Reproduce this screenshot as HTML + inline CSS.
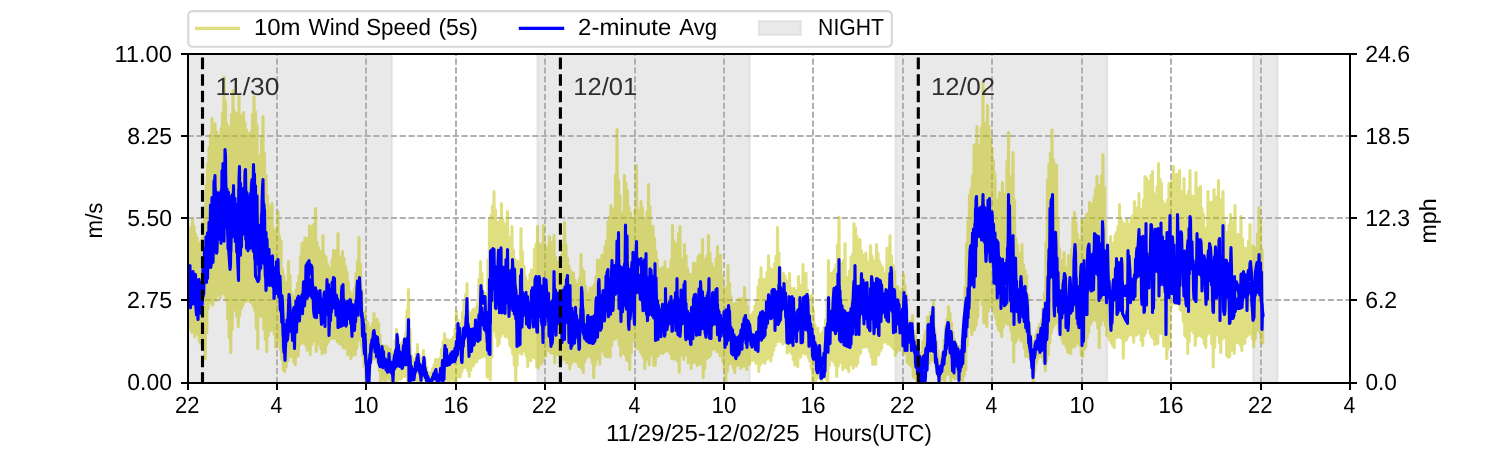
<!DOCTYPE html>
<html><head><meta charset="utf-8"><title>Wind Speed</title>
<style>html,body{margin:0;padding:0;background:#fff;}svg{display:block;}text{font-family:'Liberation Sans', sans-serif;text-rendering:geometricPrecision;}</style></head><body>
<svg width="1500" height="450" viewBox="0 0 1500 450" style="will-change:transform;transform:translateZ(0)">
<rect x="0" y="0" width="1500" height="450" fill="#fff"/>
<defs><clipPath id="ax"><rect x="188.0" y="54.0" width="1162.0" height="329.0"/></clipPath></defs>
<g clip-path="url(#ax)">
<rect x="170.0" y="52.0" width="221.8" height="333.0" fill="#d3d3d3" fill-opacity="0.5" stroke="#d3d3d3" stroke-opacity="0.5" stroke-width="2.08"/>
<rect x="537.5" y="52.0" width="212.20000000000005" height="333.0" fill="#d3d3d3" fill-opacity="0.5" stroke="#d3d3d3" stroke-opacity="0.5" stroke-width="2.08"/>
<rect x="895.5" y="52.0" width="211.70000000000005" height="333.0" fill="#d3d3d3" fill-opacity="0.5" stroke="#d3d3d3" stroke-opacity="0.5" stroke-width="2.08"/>
<rect x="1253.2" y="52.0" width="24.299999999999955" height="333.0" fill="#d3d3d3" fill-opacity="0.5" stroke="#d3d3d3" stroke-opacity="0.5" stroke-width="2.08"/>
<path d="M277.00,383.0 L277.00,54.0" stroke="#b0b0b0" stroke-width="2" stroke-dasharray="6.17 2.67" fill="none"/>
<path d="M366.00,383.0 L366.00,54.0" stroke="#b0b0b0" stroke-width="2" stroke-dasharray="6.17 2.67" fill="none"/>
<path d="M456.00,383.0 L456.00,54.0" stroke="#b0b0b0" stroke-width="2" stroke-dasharray="6.17 2.67" fill="none"/>
<path d="M545.00,383.0 L545.00,54.0" stroke="#b0b0b0" stroke-width="2" stroke-dasharray="6.17 2.67" fill="none"/>
<path d="M635.00,383.0 L635.00,54.0" stroke="#b0b0b0" stroke-width="2" stroke-dasharray="6.17 2.67" fill="none"/>
<path d="M724.00,383.0 L724.00,54.0" stroke="#b0b0b0" stroke-width="2" stroke-dasharray="6.17 2.67" fill="none"/>
<path d="M813.00,383.0 L813.00,54.0" stroke="#b0b0b0" stroke-width="2" stroke-dasharray="6.17 2.67" fill="none"/>
<path d="M903.00,383.0 L903.00,54.0" stroke="#b0b0b0" stroke-width="2" stroke-dasharray="6.17 2.67" fill="none"/>
<path d="M992.00,383.0 L992.00,54.0" stroke="#b0b0b0" stroke-width="2" stroke-dasharray="6.17 2.67" fill="none"/>
<path d="M1082.00,383.0 L1082.00,54.0" stroke="#b0b0b0" stroke-width="2" stroke-dasharray="6.17 2.67" fill="none"/>
<path d="M1171.00,383.0 L1171.00,54.0" stroke="#b0b0b0" stroke-width="2" stroke-dasharray="6.17 2.67" fill="none"/>
<path d="M1261.00,383.0 L1261.00,54.0" stroke="#b0b0b0" stroke-width="2" stroke-dasharray="6.17 2.67" fill="none"/>
<path d="M187.5,136.00 L1350.0,136.00" stroke="#b0b0b0" stroke-width="2" stroke-dasharray="6.17 2.67" fill="none"/>
<path d="M187.5,218.00 L1350.0,218.00" stroke="#b0b0b0" stroke-width="2" stroke-dasharray="6.17 2.67" fill="none"/>
<path d="M187.5,300.00 L1350.0,300.00" stroke="#b0b0b0" stroke-width="2" stroke-dasharray="6.17 2.67" fill="none"/>
<polyline points="188.00,231.9 188.75,326.7 189.50,229.5 190.25,328.7 191.00,226.6 191.75,332.3 192.50,219.5 193.25,331.3 194.00,226.2 194.75,336.7 195.50,234.2 196.25,333.3 197.00,237.8 197.75,334.3 198.50,245.9 199.25,341.3 200.00,242.9 200.75,343.5 201.50,239.8 202.25,344.7 203.00,222.0 203.75,350.0 204.50,207.7 205.25,358.5 206.00,185.9 206.75,332.8 207.50,164.3 208.25,308.7 209.00,147.9 209.75,302.7 210.50,135.1 211.25,296.8 212.00,118.5 212.75,305.2 213.50,124.7 214.25,295.4 215.00,123.7 215.75,300.5 216.50,131.8 217.25,295.3 218.00,135.9 218.75,295.5 219.50,135.5 220.25,297.9 221.00,128.5 221.75,293.0 222.50,112.7 223.25,293.5 224.00,77.1 224.75,294.8 225.50,101.7 226.25,300.7 227.00,123.9 227.75,318.9 228.50,127.2 229.25,337.9 230.00,133.9 230.75,352.5 231.50,114.3 232.25,329.5 233.00,90.5 233.75,307.3 234.50,111.1 235.25,310.0 236.00,125.6 236.75,316.5 237.50,113.2 238.25,326.5 239.00,96.5 239.75,315.5 240.50,115.2 241.25,308.7 242.00,126.1 242.75,305.4 243.50,112.5 244.25,302.2 245.00,123.0 245.75,299.7 246.50,129.9 247.25,300.8 248.00,133.5 248.75,298.8 249.50,136.1 250.25,301.7 251.00,131.6 251.75,302.7 252.50,114.3 253.25,305.9 254.00,96.5 254.75,310.3 255.50,111.7 256.25,328.2 257.00,124.9 257.75,348.5 258.50,155.7 259.25,314.7 260.00,155.8 260.75,315.8 261.50,137.1 262.25,316.7 263.00,116.5 263.75,328.9 264.50,153.2 265.25,339.0 266.00,175.5 266.75,351.5 267.50,195.8 268.25,335.7 269.00,205.7 269.75,330.7 270.50,211.8 271.25,329.3 272.00,203.5 272.75,330.1 273.50,228.8 274.25,334.3 275.00,230.2 275.75,347.0 276.50,231.6 277.25,336.8 278.00,211.5 278.75,341.3 279.50,236.2 280.25,349.1 281.00,241.4 281.75,358.7 282.50,269.5 283.25,370.0 284.00,275.9 284.75,371.5 285.50,289.1 286.25,366.6 287.00,282.2 287.75,361.0 288.50,261.5 289.25,356.6 290.00,275.5 290.75,353.7 291.50,292.9 292.25,356.9 293.00,296.0 293.75,361.8 294.50,298.1 295.25,364.5 296.00,290.1 296.75,356.4 297.50,283.2 298.25,355.8 299.00,276.0 299.75,345.0 300.50,256.6 301.25,343.2 302.00,243.9 302.75,343.0 303.50,242.3 304.25,343.2 305.00,237.9 305.75,345.1 306.50,240.4 307.25,350.2 308.00,238.5 308.75,349.9 309.50,225.8 310.25,354.5 311.00,234.1 311.75,344.7 312.50,226.3 313.25,341.2 314.00,224.4 314.75,338.0 315.50,208.5 316.25,351.4 317.00,242.3 317.75,341.5 318.50,247.5 319.25,344.3 320.00,253.9 320.75,348.5 321.50,251.1 322.25,353.5 323.00,235.5 323.75,348.7 324.50,255.2 325.25,352.5 326.00,257.4 326.75,344.8 327.50,264.3 328.25,341.9 329.00,270.2 329.75,339.2 330.50,268.0 331.25,336.7 332.00,260.2 332.75,338.3 333.50,250.6 334.25,338.3 335.00,253.7 335.75,336.2 336.50,250.3 337.25,341.6 338.00,233.5 338.75,343.0 339.50,257.4 340.25,343.9 341.00,259.7 341.75,344.5 342.50,251.5 343.25,347.7 344.00,258.3 344.75,348.2 345.50,266.3 346.25,345.3 347.00,272.3 347.75,354.4 348.50,282.0 349.25,351.7 350.00,292.1 350.75,358.5 351.50,295.4 352.25,355.6 353.00,293.3 353.75,350.6 354.50,288.3 355.25,354.7 356.00,273.2 356.75,348.3 357.50,261.5 358.25,340.0 359.00,237.5 359.75,338.7 360.50,263.7 361.25,345.7 362.00,290.2 362.75,355.6 363.50,313.6 364.25,366.8 365.00,311.8 365.75,382.7 366.50,320.6 367.25,382.3 368.00,323.0 368.75,381.5 369.50,331.7 370.25,367.6 371.00,328.0 371.75,357.7 372.50,323.6 373.25,358.9 374.00,313.5 374.75,358.4 375.50,321.1 376.25,359.2 377.00,319.0 377.75,362.6 378.50,323.1 379.25,370.6 380.00,335.0 380.75,381.5 381.50,345.4 382.25,379.3 383.00,345.6 383.75,379.6 384.50,350.9 385.25,381.5 386.00,346.1 386.75,379.1 387.50,347.5 388.25,379.0 389.00,348.8 389.75,378.4 390.50,349.6 391.25,381.5 392.00,353.1 392.75,380.0 393.50,354.7 394.25,382.7 395.00,340.6 395.75,381.0 396.50,329.5 397.25,381.5 398.00,337.1 398.75,378.3 399.50,343.2 400.25,379.5 401.00,345.7 401.75,378.0 402.50,342.3 403.25,375.9 404.00,339.9 404.75,376.1 405.50,333.5 406.25,374.9 407.00,310.2 407.75,381.0 408.50,289.5 409.25,381.5 410.00,329.2 410.75,377.7 411.50,355.7 412.25,379.2 413.00,359.3 413.75,379.8 414.50,361.9 415.25,382.7 416.00,354.0 416.75,379.2 417.50,344.5 418.25,382.7 419.00,355.0 419.75,382.7 420.50,358.2 421.25,380.1 422.00,357.6 422.75,379.4 423.50,350.5 424.25,379.9 425.00,359.7 425.75,379.7 426.50,367.1 427.25,380.9 428.00,372.5 428.75,380.9 429.50,377.9 430.25,381.5 431.00,373.1 431.75,381.3 432.50,368.7 433.25,380.4 434.00,364.9 434.75,380.5 435.50,359.5 436.25,380.1 437.00,360.1 437.75,380.9 438.50,359.6 439.25,379.2 440.00,358.4 440.75,379.2 441.50,349.4 442.25,378.5 443.00,341.5 443.75,379.3 444.50,333.5 445.25,377.7 446.00,339.0 446.75,381.5 447.50,339.7 448.25,379.6 449.00,340.5 449.75,381.5 450.50,341.8 451.25,380.0 452.00,339.2 452.75,379.4 453.50,337.0 454.25,382.7 455.00,329.4 455.75,381.5 456.50,311.5 457.25,376.9 458.00,319.9 458.75,376.4 459.50,329.4 460.25,376.9 461.00,323.9 461.75,371.8 462.50,312.6 463.25,367.9 464.00,302.0 464.75,366.2 465.50,294.8 466.25,367.6 467.00,283.5 467.75,370.6 468.50,311.2 469.25,376.5 470.00,313.8 470.75,370.3 471.50,312.5 472.25,366.2 473.00,309.4 473.75,365.0 474.50,310.4 475.25,362.0 476.00,307.9 476.75,361.5 477.50,302.9 478.25,358.1 479.00,279.6 479.75,357.9 480.50,261.5 481.25,353.6 482.00,273.6 482.75,356.9 483.50,291.5 484.25,353.8 485.00,293.7 485.75,355.9 486.50,293.3 487.25,376.9 488.00,259.9 488.75,374.8 489.50,219.4 490.25,379.5 491.00,215.5 491.75,357.0 492.50,205.9 493.25,330.9 494.00,191.5 494.75,329.6 495.50,210.0 496.25,337.0 497.00,225.4 497.75,345.9 498.50,222.0 499.25,343.5 500.00,220.5 500.75,336.1 501.50,203.5 502.25,333.0 503.00,219.8 503.75,333.5 504.50,227.7 505.25,336.6 506.00,223.7 506.75,334.5 507.50,211.5 508.25,337.8 509.00,239.1 509.75,345.2 510.50,237.5 511.25,347.2 512.00,226.5 512.75,353.9 513.50,250.1 514.25,364.9 515.00,259.6 515.75,382.7 516.50,261.0 517.25,365.3 518.00,263.3 518.75,352.9 519.50,261.4 520.25,348.2 521.00,228.5 521.75,354.3 522.50,251.9 523.25,347.9 524.00,266.3 524.75,351.3 525.50,276.5 526.25,355.6 527.00,283.9 527.75,366.5 528.50,281.6 529.25,359.7 530.00,274.3 530.75,360.8 531.50,269.7 532.25,357.1 533.00,271.7 533.75,357.2 534.50,249.0 535.25,358.1 536.00,244.4 536.75,366.5 537.50,226.5 538.25,368.0 539.00,244.3 539.75,358.3 540.50,250.1 541.25,363.9 542.00,243.9 542.75,361.5 543.50,225.5 544.25,356.8 545.00,243.5 545.75,355.7 546.50,250.3 547.25,348.6 548.00,247.8 548.75,350.7 549.50,236.5 550.25,351.9 551.00,242.4 551.75,353.3 552.50,254.3 553.25,351.4 554.00,235.5 554.75,362.8 555.50,257.1 556.25,354.1 557.00,261.8 557.75,354.4 558.50,265.0 559.25,355.0 560.00,257.8 560.75,362.5 561.50,255.3 562.25,358.4 563.00,245.0 563.75,359.5 564.50,222.5 565.25,356.9 566.00,244.9 566.75,362.7 567.50,258.3 568.25,362.3 569.00,266.0 569.75,368.9 570.50,270.2 571.25,363.9 572.00,272.7 572.75,360.9 573.50,273.1 574.25,361.1 575.00,280.4 575.75,361.7 576.50,285.5 577.25,361.9 578.00,284.0 578.75,366.2 579.50,278.3 580.25,366.3 581.00,254.5 581.75,368.1 582.50,269.5 583.25,372.5 584.00,271.3 584.75,361.8 585.50,286.3 586.25,358.3 587.00,295.9 587.75,355.2 588.50,292.8 589.25,355.5 590.00,288.0 590.75,357.4 591.50,288.7 592.25,362.7 593.00,286.8 593.75,377.5 594.50,284.2 595.25,365.0 596.00,276.9 596.75,359.1 597.50,260.2 598.25,353.7 599.00,264.1 599.75,363.9 600.50,259.3 601.25,351.0 602.00,255.3 602.75,349.5 603.50,254.5 604.25,354.4 605.00,246.4 605.75,356.5 606.50,241.3 607.25,356.8 608.00,221.7 608.75,345.3 609.50,216.7 610.25,357.0 611.00,205.5 611.75,345.3 612.50,210.3 613.25,339.3 614.00,208.9 614.75,339.2 615.50,174.8 616.25,335.5 617.00,129.5 617.75,338.0 618.50,180.2 619.25,345.2 620.00,195.6 620.75,355.7 621.50,221.9 622.25,352.5 623.00,213.4 623.75,353.3 624.50,175.5 625.25,354.9 626.00,183.3 626.75,359.9 627.50,190.8 628.25,360.7 629.00,207.5 629.75,369.5 630.50,213.1 631.25,352.7 632.00,220.0 632.75,341.0 633.50,219.3 634.25,340.1 635.00,210.3 635.75,340.3 636.50,165.5 637.25,348.7 638.00,222.3 638.75,347.1 639.50,210.2 640.25,351.6 641.00,201.5 641.75,353.8 642.50,208.0 643.25,356.9 644.00,218.5 644.75,368.5 645.50,219.2 646.25,359.7 647.00,212.3 647.75,354.4 648.50,184.5 649.25,364.6 650.00,206.5 650.75,351.1 651.50,228.3 652.25,354.9 653.00,226.3 653.75,365.3 654.50,238.2 655.25,365.5 656.00,251.1 656.75,356.5 657.50,259.8 658.25,355.7 659.00,269.1 659.75,352.9 660.50,274.0 661.25,351.2 662.00,267.8 662.75,353.4 663.50,267.2 664.25,351.7 665.00,261.5 665.75,350.7 666.50,272.4 667.25,350.9 668.00,270.1 668.75,349.0 669.50,268.9 670.25,353.4 671.00,260.3 671.75,358.7 672.50,225.5 673.25,357.0 674.00,241.0 674.75,359.2 675.50,244.2 676.25,354.9 677.00,243.2 677.75,361.3 678.50,233.9 679.25,372.1 680.00,226.5 680.75,355.1 681.50,260.2 682.25,353.8 683.00,258.6 683.75,359.4 684.50,244.5 685.25,355.1 686.00,255.6 686.75,353.9 687.50,268.2 688.25,362.7 689.00,274.1 689.75,358.9 690.50,275.9 691.25,368.5 692.00,274.1 692.75,362.8 693.50,263.2 694.25,362.3 695.00,263.3 695.75,361.3 696.50,263.7 697.25,365.4 698.00,256.8 698.75,364.3 699.50,254.9 700.25,362.6 701.00,255.0 701.75,363.9 702.50,239.5 703.25,377.5 704.00,259.1 704.75,368.6 705.50,265.1 706.25,358.9 707.00,255.8 707.75,357.7 708.50,235.5 709.25,356.8 710.00,252.7 710.75,355.0 711.50,263.4 712.25,349.7 713.00,269.5 713.75,348.9 714.50,267.4 715.25,348.1 716.00,258.8 716.75,351.6 717.50,246.5 718.25,351.3 719.00,260.1 719.75,355.5 720.50,255.4 721.25,354.9 722.00,275.2 722.75,361.2 723.50,287.3 724.25,368.4 725.00,287.9 725.75,382.7 726.50,295.4 727.25,371.4 728.00,265.5 728.75,364.4 729.50,283.0 730.25,362.5 731.00,296.5 731.75,363.6 732.50,303.6 733.25,367.9 734.00,308.3 734.75,372.5 735.50,303.2 736.25,365.4 737.00,308.9 737.75,364.9 738.50,299.0 739.25,363.5 740.00,299.2 740.75,368.3 741.50,303.9 742.25,363.8 743.00,298.1 743.75,366.2 744.50,287.5 745.25,363.7 746.00,299.3 746.75,369.5 747.50,306.4 748.25,363.3 749.00,315.9 749.75,364.3 750.50,317.0 751.25,359.8 752.00,314.3 752.75,360.2 753.50,311.9 754.25,359.3 755.00,305.7 755.75,363.3 756.50,300.0 757.25,362.1 758.00,286.9 758.75,371.5 759.50,279.5 760.25,364.7 761.00,267.5 761.75,362.3 762.50,282.4 763.25,361.1 764.00,279.0 764.75,363.2 765.50,281.0 766.25,359.4 767.00,272.4 767.75,358.3 768.50,255.5 769.25,357.8 770.00,268.3 770.75,360.9 771.50,269.2 772.25,355.2 773.00,269.5 773.75,350.0 774.50,263.5 775.25,345.6 776.00,256.4 776.75,341.4 777.50,227.5 778.25,341.6 779.00,253.0 779.75,338.3 780.50,268.3 781.25,341.6 782.00,273.4 782.75,343.9 783.50,273.2 784.25,342.6 785.00,276.3 785.75,343.3 786.50,284.7 787.25,352.9 788.00,280.9 788.75,350.3 789.50,273.5 790.25,351.3 791.00,288.2 791.75,353.8 792.50,291.3 793.25,359.5 794.00,288.3 794.75,364.9 795.50,291.2 796.25,360.8 797.00,290.2 797.75,366.5 798.50,276.5 799.25,357.4 800.00,287.5 800.75,357.1 801.50,284.9 802.25,353.3 803.00,264.5 803.75,352.7 804.50,274.6 805.25,354.1 806.00,273.4 806.75,353.0 807.50,290.0 808.25,357.5 809.00,295.9 809.75,361.2 810.50,301.1 811.25,368.8 812.00,295.4 812.75,381.5 813.50,310.4 814.25,375.4 815.00,324.9 815.75,380.5 816.50,329.0 817.25,378.2 818.00,328.4 818.75,376.5 819.50,334.5 820.25,376.9 821.00,334.6 821.75,381.4 822.50,332.4 823.25,377.0 824.00,327.6 824.75,375.9 825.50,319.8 826.25,378.9 827.00,299.0 827.75,381.5 828.50,260.5 829.25,365.8 830.00,274.0 830.75,355.7 831.50,273.2 832.25,360.1 833.00,272.2 833.75,361.7 834.50,269.2 835.25,364.9 836.00,264.7 836.75,376.5 837.50,244.5 838.25,365.9 839.00,217.1 839.75,362.4 840.50,262.8 841.25,358.8 842.00,264.1 842.75,369.5 843.50,260.2 844.25,367.2 845.00,243.5 845.75,362.4 846.50,277.1 847.25,368.5 848.00,279.0 848.75,371.5 849.50,270.7 850.25,364.3 851.00,257.4 851.75,363.1 852.50,254.1 853.25,368.1 854.00,223.5 854.75,363.5 855.50,227.8 856.25,365.9 857.00,236.4 857.75,362.7 858.50,254.0 859.25,354.8 860.00,239.5 860.75,352.7 861.50,250.5 862.25,346.7 863.00,254.9 863.75,347.1 864.50,259.7 865.25,345.4 866.00,253.1 866.75,346.9 867.50,264.1 868.25,346.8 869.00,261.8 869.75,351.7 870.50,245.5 871.25,357.2 872.00,255.8 872.75,364.5 873.50,264.7 874.25,358.8 875.00,260.5 875.75,364.3 876.50,244.5 877.25,355.0 878.00,253.3 878.75,354.9 879.50,261.2 880.25,351.1 881.00,264.7 881.75,348.3 882.50,267.8 883.25,342.0 884.00,274.9 884.75,341.9 885.50,273.5 886.25,340.2 887.00,248.2 887.75,344.1 888.50,247.8 889.25,340.8 890.00,235.5 890.75,345.3 891.50,256.1 892.25,347.2 893.00,265.0 893.75,348.7 894.50,271.4 895.25,355.5 896.00,286.3 896.75,352.0 897.50,286.5 898.25,349.4 899.00,292.1 899.75,350.2 900.50,291.9 901.25,345.6 902.00,288.7 902.75,347.4 903.50,274.5 904.25,353.6 905.00,285.7 905.75,353.3 906.50,294.2 907.25,362.0 908.00,321.7 908.75,363.8 909.50,322.0 910.25,365.1 911.00,320.7 911.75,366.3 912.50,315.5 913.25,377.2 914.00,331.3 914.75,377.3 915.50,336.1 916.25,379.1 917.00,345.8 917.75,381.5 918.50,349.3 919.25,379.8 920.00,352.7 920.75,382.7 921.50,354.8 922.25,378.4 923.00,341.6 923.75,382.7 924.50,334.9 925.25,381.5 926.00,330.5 926.75,366.6 927.50,316.7 928.25,359.2 929.00,318.6 929.75,363.3 930.50,312.3 931.25,353.9 932.00,313.2 932.75,360.4 933.50,301.5 934.25,358.4 935.00,330.7 935.75,366.6 936.50,341.3 937.25,375.3 938.00,350.8 938.75,381.5 939.50,358.2 940.25,380.4 941.00,357.2 941.75,379.9 942.50,352.8 943.25,378.2 944.00,340.4 944.75,381.5 945.50,326.0 946.25,375.0 947.00,319.2 947.75,372.5 948.50,306.5 949.25,374.3 950.00,313.2 950.75,381.5 951.50,322.5 952.25,377.1 953.00,332.9 953.75,377.2 954.50,339.2 955.25,378.8 956.00,343.0 956.75,377.8 957.50,346.4 958.25,379.3 959.00,346.8 959.75,381.1 960.50,347.2 961.25,379.8 962.00,344.7 962.75,381.5 963.50,323.4 964.25,375.5 965.00,287.0 965.75,370.1 966.50,243.8 967.25,344.9 968.00,220.8 968.75,325.8 969.50,195.1 970.25,327.3 971.00,188.6 971.75,334.5 972.50,176.2 973.25,330.2 974.00,145.5 974.75,329.5 975.50,144.2 976.25,325.3 977.00,126.5 977.75,316.9 978.50,153.0 979.25,297.2 980.00,145.9 980.75,294.8 981.50,127.7 982.25,304.3 983.00,83.5 983.75,322.5 984.50,126.9 985.25,322.9 986.00,122.8 986.75,326.5 987.50,105.5 988.25,310.7 989.00,126.5 989.75,307.0 990.50,136.3 991.25,300.2 992.00,148.3 992.75,306.9 993.50,160.7 994.25,313.5 995.00,173.9 995.75,318.1 996.50,200.1 997.25,324.9 998.00,214.3 998.75,329.9 999.50,192.6 1000.25,331.2 1001.00,194.3 1001.75,336.5 1002.50,182.5 1003.25,327.3 1004.00,193.7 1004.75,320.9 1005.50,197.1 1006.25,323.2 1007.00,161.6 1007.75,324.3 1008.50,132.5 1009.25,323.0 1010.00,188.3 1010.75,330.3 1011.50,176.3 1012.25,339.6 1013.00,152.5 1013.75,362.0 1014.50,200.1 1015.25,342.7 1016.00,239.0 1016.75,340.2 1017.50,245.2 1018.25,335.0 1019.00,253.3 1019.75,337.3 1020.50,254.3 1021.25,340.9 1022.00,244.5 1022.75,339.2 1023.50,264.7 1024.25,348.5 1025.00,270.5 1025.75,356.5 1026.50,275.3 1027.25,350.5 1028.00,294.9 1028.75,356.4 1029.50,323.5 1030.25,359.0 1031.00,335.0 1031.75,368.0 1032.50,345.1 1033.25,381.5 1034.00,341.9 1034.75,371.0 1035.50,335.2 1036.25,363.4 1037.00,332.1 1037.75,359.2 1038.50,327.1 1039.25,356.3 1040.00,324.6 1040.75,353.1 1041.50,320.4 1042.25,357.7 1043.00,308.2 1043.75,361.9 1044.50,293.3 1045.25,370.5 1046.00,242.6 1046.75,360.6 1047.50,180.3 1048.25,354.9 1049.00,164.3 1049.75,343.3 1050.50,153.0 1051.25,332.9 1052.00,129.9 1052.75,328.0 1053.50,159.8 1054.25,324.9 1055.00,164.9 1055.75,320.9 1056.50,165.0 1057.25,322.6 1058.00,219.1 1058.75,329.6 1059.50,248.8 1060.25,331.1 1061.00,260.2 1061.75,338.9 1062.50,270.3 1063.25,343.3 1064.00,252.5 1064.75,343.4 1065.50,266.7 1066.25,346.8 1067.00,268.9 1067.75,352.5 1068.50,255.5 1069.25,344.9 1070.00,258.2 1070.75,353.4 1071.50,249.5 1072.25,344.8 1073.00,219.4 1073.75,347.1 1074.50,212.5 1075.25,345.9 1076.00,222.6 1076.75,342.0 1077.50,234.3 1078.25,343.1 1079.00,246.1 1079.75,345.4 1080.50,240.3 1081.25,355.0 1082.00,219.5 1082.75,356.5 1083.50,224.2 1084.25,349.2 1085.00,221.0 1085.75,347.2 1086.50,215.0 1087.25,338.0 1088.00,213.1 1088.75,332.2 1089.50,202.3 1090.25,324.3 1091.00,204.9 1091.75,322.0 1092.50,203.8 1093.25,319.6 1094.00,197.7 1094.75,316.2 1095.50,188.7 1096.25,320.7 1097.00,176.5 1097.75,327.9 1098.50,185.5 1099.25,347.5 1100.00,195.0 1100.75,324.9 1101.50,175.8 1102.25,320.2 1103.00,154.5 1103.75,316.9 1104.50,187.0 1105.25,325.5 1106.00,246.0 1106.75,335.3 1107.50,253.5 1108.25,336.4 1109.00,255.0 1109.75,340.0 1110.50,236.5 1111.25,342.9 1112.00,247.3 1112.75,345.6 1113.50,242.7 1114.25,347.5 1115.00,235.3 1115.75,338.0 1116.50,232.2 1117.25,337.3 1118.00,226.3 1118.75,329.0 1119.50,204.5 1120.25,337.3 1121.00,219.4 1121.75,338.2 1122.50,222.3 1123.25,358.1 1124.00,224.0 1124.75,340.8 1125.50,224.3 1126.25,339.9 1127.00,220.1 1127.75,337.0 1128.50,225.6 1129.25,334.4 1130.00,223.8 1130.75,333.1 1131.50,217.7 1132.25,335.4 1133.00,215.5 1133.75,342.2 1134.50,201.5 1135.25,333.0 1136.00,218.3 1136.75,335.1 1137.50,207.6 1138.25,333.1 1139.00,193.5 1139.75,333.8 1140.50,209.6 1141.25,340.4 1142.00,212.8 1142.75,345.5 1143.50,199.8 1144.25,335.4 1145.00,176.5 1145.75,332.8 1146.50,178.4 1147.25,324.9 1148.00,181.0 1148.75,328.2 1149.50,186.1 1150.25,333.8 1151.00,175.4 1151.75,336.9 1152.50,171.5 1153.25,338.2 1154.00,193.9 1154.75,344.5 1155.50,207.5 1156.25,337.6 1157.00,187.1 1157.75,343.5 1158.50,163.5 1159.25,333.1 1160.00,179.2 1160.75,333.0 1161.50,183.2 1162.25,333.5 1163.00,201.8 1163.75,346.1 1164.50,213.5 1165.25,344.5 1166.00,204.3 1166.75,358.5 1167.50,200.0 1168.25,349.1 1169.00,183.5 1169.75,345.3 1170.50,198.7 1171.25,306.9 1172.00,181.5 1172.75,302.3 1173.50,166.5 1174.25,303.6 1175.00,179.0 1175.75,301.8 1176.50,174.4 1177.25,302.9 1178.00,181.1 1178.75,304.7 1179.50,170.5 1180.25,309.4 1181.00,191.6 1181.75,311.2 1182.50,193.5 1183.25,321.5 1184.00,178.5 1184.75,335.8 1185.50,195.5 1186.25,337.0 1187.00,201.3 1187.75,353.5 1188.50,191.0 1189.25,341.6 1190.00,170.5 1190.75,330.3 1191.50,195.5 1192.25,326.9 1193.00,208.0 1193.75,332.9 1194.50,196.2 1195.25,345.5 1196.00,172.5 1196.75,336.7 1197.50,188.2 1198.25,332.4 1199.00,193.0 1199.75,335.5 1200.50,186.5 1201.25,336.2 1202.00,208.3 1202.75,337.6 1203.50,214.2 1204.25,343.8 1205.00,228.4 1205.75,347.5 1206.50,234.2 1207.25,335.6 1208.00,191.5 1208.75,326.9 1209.50,202.5 1210.25,333.0 1211.00,202.3 1211.75,343.8 1212.50,202.0 1213.25,367.0 1214.00,189.5 1214.75,347.2 1215.50,200.2 1216.25,333.6 1217.00,196.5 1217.75,334.9 1218.50,180.5 1219.25,342.4 1220.00,200.2 1220.75,352.5 1221.50,199.6 1222.25,338.8 1223.00,191.5 1223.75,325.6 1224.50,222.2 1225.25,337.7 1226.00,232.1 1226.75,355.5 1227.50,237.1 1228.25,357.2 1229.00,224.8 1229.75,356.6 1230.50,214.5 1231.25,345.2 1232.00,226.3 1232.75,350.3 1233.50,221.5 1234.25,353.5 1235.00,205.5 1235.75,341.8 1236.50,235.9 1237.25,342.7 1238.00,234.4 1238.75,340.8 1239.50,237.6 1240.25,345.0 1241.00,216.5 1241.75,350.5 1242.50,238.5 1243.25,343.7 1244.00,248.1 1244.75,343.3 1245.50,248.4 1246.25,336.9 1247.00,254.0 1247.75,335.4 1248.50,240.9 1249.25,331.1 1250.00,224.5 1250.75,334.0 1251.50,248.4 1252.25,338.8 1253.00,246.1 1253.75,346.5 1254.50,251.7 1255.25,339.0 1256.00,247.5 1256.75,328.9 1257.50,234.0 1258.25,330.1 1259.00,207.5 1259.75,332.4 1260.50,220.3 1261.25,342.6 1262.00,249.8 1262.75,343.0" fill="none" stroke="#bfbf00" stroke-opacity="0.5" stroke-width="3.1" stroke-linejoin="round" stroke-linecap="round"/>
<polyline points="188.00,275.2 188.75,299.0 189.50,274.5 190.25,302.9 191.00,272.2 191.75,304.3 192.50,279.1 193.25,303.9 194.00,281.5 194.75,302.9 195.50,283.6 196.25,307.8 197.00,282.7 197.75,314.5 198.50,284.7 199.25,312.0 200.00,287.0 200.75,309.9 201.50,282.4 202.25,304.4 203.00,268.5 203.75,294.1 204.50,248.3 205.25,280.5 206.00,236.8 206.75,272.6 207.50,232.7 208.25,265.2 209.00,222.3 209.75,257.3 210.50,205.0 211.25,255.6 212.00,197.6 212.75,247.5 213.50,197.1 214.25,250.7 215.00,187.8 215.75,237.7 216.50,192.3 217.25,235.9 218.00,192.9 218.75,235.4 219.50,198.2 220.25,231.6 221.00,190.7 221.75,230.8 222.50,178.9 223.25,232.6 224.00,173.5 224.75,221.1 225.50,174.5 226.25,227.5 227.00,189.0 227.75,235.4 228.50,192.2 229.25,251.5 230.00,196.4 230.75,251.5 231.50,202.1 232.25,237.0 233.00,198.0 233.75,234.4 234.50,199.5 235.25,241.4 236.00,204.2 236.75,251.9 237.50,224.2 238.25,263.1 239.00,189.3 239.75,246.6 240.50,183.3 241.25,238.2 242.00,188.5 242.75,229.8 243.50,188.5 244.25,234.3 245.00,188.5 245.75,239.2 246.50,194.0 247.25,240.7 248.00,204.7 248.75,238.3 249.50,209.1 250.25,248.2 251.00,199.5 251.75,245.2 252.50,188.1 253.25,251.2 254.00,177.7 254.75,258.4 255.50,185.9 256.25,258.4 257.00,195.7 257.75,263.9 258.50,225.1 259.25,270.7 260.00,233.1 260.75,268.3 261.50,214.9 262.25,259.5 263.00,200.3 263.75,263.2 264.50,210.0 265.25,276.1 266.00,232.3 266.75,279.7 267.50,251.0 268.25,285.0 269.00,249.4 269.75,285.5 270.50,256.8 271.25,284.9 272.00,263.3 272.75,286.1 273.50,268.8 274.25,289.0 275.00,270.8 275.75,292.7 276.50,271.6 277.25,293.8 278.00,272.8 278.75,296.8 279.50,282.0 280.25,309.7 281.00,298.0 281.75,322.2 282.50,310.2 283.25,335.7 284.00,324.5 284.75,343.3 285.50,328.5 286.25,340.2 287.00,320.0 287.75,328.7 288.50,311.5 289.25,320.6 290.00,312.7 290.75,325.8 291.50,321.2 292.25,330.6 293.00,321.6 293.75,333.4 294.50,319.8 295.25,329.4 296.00,314.5 296.75,323.0 297.50,309.2 298.25,316.4 299.00,304.0 299.75,311.7 300.50,300.5 301.25,307.8 302.00,294.9 302.75,305.6 303.50,290.3 304.25,302.2 305.00,285.2 305.75,298.1 306.50,283.8 307.25,298.3 308.00,279.7 308.75,295.6 309.50,279.4 310.25,294.5 311.00,283.0 311.75,297.7 312.50,283.8 313.25,299.3 314.00,287.8 314.75,301.3 315.50,287.8 316.25,302.5 317.00,291.0 317.75,303.5 318.50,293.2 319.25,306.9 320.00,295.9 320.75,309.5 321.50,299.0 322.25,312.6 323.00,300.7 323.75,313.8 324.50,302.9 325.25,314.8 326.00,299.4 326.75,312.8 327.50,301.1 328.25,315.1 329.00,302.8 329.75,317.2 330.50,302.9 331.25,312.1 332.00,296.6 332.75,308.3 333.50,292.3 334.25,306.4 335.00,294.4 335.75,308.7 336.50,295.3 337.25,309.8 338.00,300.6 338.75,312.1 339.50,301.7 340.25,312.8 341.00,302.1 341.75,311.2 342.50,299.5 343.25,312.1 344.00,299.9 344.75,311.3 345.50,302.2 346.25,313.9 347.00,306.1 347.75,317.4 348.50,309.2 349.25,319.0 350.00,311.8 350.75,323.6 351.50,314.0 352.25,323.8 353.00,310.5 353.75,320.4 354.50,305.9 355.25,314.6 356.00,300.3 356.75,309.4 357.50,296.4 358.25,307.6 359.00,294.8 359.75,308.4 360.50,299.6 361.25,315.9 362.00,312.9 362.75,326.3 363.50,323.6 364.25,339.4 365.00,333.8 365.75,358.4 366.50,365.4 367.25,377.8 368.00,371.7 368.75,374.6 369.50,359.9 370.25,355.7 371.00,344.6 371.75,348.8 372.50,341.0 373.25,346.3 374.00,338.9 374.75,345.3 375.50,338.8 376.25,347.3 377.00,341.3 377.75,351.1 378.50,344.7 379.25,355.6 380.00,349.9 380.75,358.8 381.50,353.3 382.25,360.1 383.00,355.7 383.75,362.3 384.50,358.9 385.25,364.2 386.00,360.0 386.75,365.0 387.50,360.6 388.25,366.5 389.00,360.3 389.75,368.8 390.50,365.5 391.25,372.9 392.00,369.7 392.75,375.6 393.50,368.8 394.25,369.3 395.00,358.4 395.75,360.9 396.50,348.5 397.25,354.9 398.00,348.1 398.75,357.8 399.50,351.6 400.25,360.5 401.00,355.4 401.75,361.1 402.50,352.5 403.25,358.2 404.00,349.6 404.75,356.2 405.50,346.2 406.25,352.6 407.00,343.0 407.75,356.8 408.50,342.6 409.25,363.6 410.00,356.1 410.75,370.5 411.50,366.4 412.25,373.9 413.00,369.2 413.75,374.9 414.50,370.3 415.25,372.6 416.00,366.3 416.75,369.8 417.50,362.4 418.25,367.9 419.00,364.9 419.75,371.7 420.50,370.1 421.25,375.8 422.00,369.5 422.75,372.1 423.50,365.9 424.25,370.8 425.00,368.1 425.75,374.2 426.50,373.2 427.25,378.3 428.00,377.3 428.75,380.3 429.50,380.9 430.25,381.4 431.00,380.6 431.75,380.4 432.50,378.3 433.25,379.1 434.00,376.1 434.75,378.4 435.50,374.6 436.25,377.3 437.00,374.2 437.75,377.9 438.50,376.0 439.25,378.6 440.00,374.5 440.75,376.8 441.50,370.8 442.25,374.8 443.00,365.9 443.75,370.3 444.50,359.2 445.25,364.8 446.00,358.2 446.75,365.5 447.50,359.1 448.25,365.0 449.00,360.7 449.75,364.4 450.50,358.8 451.25,362.3 452.00,355.1 452.75,358.4 453.50,351.4 454.25,355.0 455.00,348.2 455.75,351.5 456.50,341.2 457.25,344.7 458.00,333.3 458.75,341.6 459.50,337.1 460.25,346.6 461.00,341.8 461.75,352.2 462.50,342.9 463.25,346.3 464.00,335.0 464.75,338.0 465.50,327.3 466.25,333.8 467.00,317.9 467.75,335.9 468.50,326.8 469.25,342.2 470.00,336.1 470.75,343.5 471.50,333.5 472.25,341.2 473.00,332.7 473.75,338.8 474.50,331.1 475.25,336.4 476.00,328.2 476.75,333.4 477.50,322.7 478.25,329.2 479.00,314.7 479.75,324.6 480.50,305.5 481.25,321.4 482.00,307.7 482.75,325.1 483.50,313.7 484.25,329.4 485.00,312.9 485.75,331.5 486.50,325.5 487.25,342.0 488.00,323.5 488.75,338.3 489.50,299.6 490.25,323.0 491.00,278.5 491.75,300.7 492.50,267.2 493.25,289.1 494.00,266.0 494.75,288.3 495.50,266.5 496.25,289.1 497.00,270.7 497.75,290.6 498.50,268.6 499.25,292.0 500.00,269.7 500.75,294.2 501.50,271.5 502.25,293.1 503.00,274.5 503.75,294.1 504.50,272.3 505.25,294.7 506.00,274.9 506.75,295.4 507.50,272.0 508.25,299.3 509.00,278.9 509.75,303.7 510.50,279.8 511.25,304.5 512.00,279.5 512.75,310.5 513.50,286.7 514.25,313.9 515.00,293.1 515.75,318.8 516.50,301.2 517.25,329.3 518.00,306.7 518.75,328.3 519.50,300.2 520.25,321.0 521.00,290.7 521.75,308.8 522.50,292.2 523.25,307.0 524.00,295.2 524.75,311.8 525.50,300.7 526.25,314.9 527.00,304.2 527.75,317.2 528.50,305.4 529.25,318.5 530.00,305.6 530.75,316.1 531.50,303.1 532.25,317.3 533.00,301.4 533.75,316.0 534.50,298.5 535.25,316.3 536.00,292.6 536.75,316.2 537.50,294.3 538.25,315.5 539.00,294.1 539.75,316.5 540.50,299.4 541.25,321.6 542.00,303.1 542.75,322.4 543.50,297.4 544.25,320.2 545.00,297.7 545.75,316.1 546.50,295.5 547.25,315.8 548.00,297.4 548.75,320.6 549.50,302.1 550.25,327.2 551.00,304.5 551.75,326.1 552.50,300.7 553.25,319.7 554.00,295.3 554.75,319.5 555.50,296.9 556.25,321.4 557.00,303.8 557.75,323.4 558.50,303.9 559.25,322.9 560.00,306.8 560.75,326.5 561.50,308.6 562.25,324.1 563.00,307.7 563.75,325.3 564.50,302.1 565.25,323.2 566.00,299.7 566.75,318.8 567.50,293.5 568.25,322.1 569.00,302.9 569.75,325.2 570.50,308.4 571.25,331.5 572.00,308.2 572.75,328.9 573.50,312.6 574.25,329.5 575.00,316.1 575.75,330.7 576.50,320.6 577.25,335.4 578.00,325.3 578.75,339.0 579.50,322.4 580.25,331.9 581.00,308.7 581.75,323.6 582.50,310.2 583.25,327.6 584.00,323.8 584.75,331.7 585.50,325.1 586.25,333.2 587.00,326.4 587.75,335.0 588.50,323.2 589.25,332.6 590.00,317.5 590.75,331.1 591.50,317.3 592.25,330.9 593.00,316.7 593.75,330.0 594.50,315.6 595.25,328.8 596.00,312.8 596.75,325.6 597.50,305.2 598.25,321.5 599.00,294.7 599.75,314.0 600.50,295.2 601.25,315.4 602.00,295.8 602.75,313.8 603.50,295.6 604.25,309.5 605.00,292.7 605.75,307.5 606.50,287.8 607.25,304.8 608.00,284.7 608.75,300.4 609.50,279.8 610.25,297.7 611.00,278.5 611.75,297.8 612.50,276.6 613.25,296.2 614.00,276.6 614.75,294.0 615.50,271.2 616.25,287.1 617.00,261.3 617.75,285.3 618.50,258.9 619.25,287.4 620.00,266.3 620.75,296.4 621.50,274.5 622.25,295.4 623.00,280.4 623.75,288.3 624.50,264.0 625.25,280.7 626.00,255.8 626.75,288.1 627.50,264.9 628.25,295.1 629.00,270.7 629.75,296.2 630.50,269.1 631.25,287.5 632.00,266.4 632.75,289.4 633.50,271.1 634.25,298.1 635.00,270.7 635.75,293.2 636.50,264.6 637.25,290.8 638.00,274.2 638.75,293.0 639.50,278.9 640.25,299.3 641.00,274.9 641.75,300.1 642.50,279.2 643.25,305.6 644.00,283.3 644.75,308.7 645.50,278.9 646.25,304.4 647.00,282.8 647.75,310.5 648.50,288.8 649.25,314.6 650.00,290.6 650.75,313.2 651.50,287.6 652.25,315.5 653.00,288.2 653.75,317.9 654.50,288.9 655.25,316.6 656.00,294.0 656.75,322.4 657.50,300.8 658.25,325.1 659.00,308.4 659.75,326.3 660.50,311.8 661.25,325.3 662.00,314.9 662.75,326.2 663.50,313.3 664.25,324.1 665.00,307.4 665.75,322.6 666.50,304.2 667.25,321.4 668.00,308.3 668.75,322.4 669.50,311.5 670.25,322.9 671.00,308.6 671.75,320.8 672.50,303.9 673.25,317.9 674.00,300.6 674.75,318.9 675.50,300.2 676.25,314.8 677.00,296.2 677.75,317.5 678.50,299.3 679.25,319.7 680.00,301.9 680.75,319.7 681.50,301.6 682.25,324.0 683.00,304.0 683.75,321.9 684.50,298.8 685.25,320.5 686.00,303.3 686.75,327.1 687.50,311.0 688.25,329.1 689.00,313.6 689.75,332.2 690.50,320.2 691.25,332.2 692.00,317.6 692.75,327.8 693.50,311.8 694.25,325.8 695.00,307.2 695.75,322.2 696.50,307.1 697.25,320.7 698.00,306.7 698.75,322.6 699.50,300.3 700.25,317.1 701.00,300.3 701.75,319.0 702.50,301.7 703.25,322.7 704.00,305.9 704.75,320.9 705.50,304.2 706.25,322.6 707.00,301.7 707.75,319.7 708.50,297.8 709.25,320.1 710.00,302.6 710.75,320.9 711.50,306.6 712.25,325.4 713.00,308.1 713.75,322.6 714.50,305.4 715.25,324.2 716.00,303.2 716.75,323.0 717.50,304.5 718.25,323.8 719.00,311.6 719.75,327.2 720.50,315.4 721.25,330.6 722.00,319.0 722.75,332.0 723.50,320.4 724.25,336.0 725.00,321.7 725.75,336.4 726.50,321.0 727.25,336.4 728.00,320.6 728.75,335.9 729.50,321.8 730.25,337.8 731.00,327.4 731.75,341.9 732.50,329.7 733.25,344.4 734.00,334.9 734.75,347.9 735.50,337.3 736.25,349.2 737.00,339.3 737.75,347.5 738.50,336.9 739.25,345.1 740.00,334.7 740.75,342.2 741.50,332.0 742.25,341.7 743.00,329.6 743.75,339.0 744.50,327.5 745.25,338.7 746.00,325.6 746.75,339.0 747.50,329.3 748.25,340.1 749.00,331.5 749.75,340.1 750.50,332.3 751.25,340.0 752.00,334.8 752.75,342.4 753.50,336.2 754.25,343.3 755.00,336.1 755.75,343.6 756.50,332.3 757.25,342.1 758.00,331.8 758.75,339.7 759.50,326.0 760.25,334.9 761.00,321.0 761.75,331.2 762.50,318.2 763.25,326.8 764.00,314.6 764.75,325.2 765.50,313.5 766.25,322.4 767.00,308.4 767.75,318.6 768.50,304.6 769.25,316.8 770.00,303.5 770.75,318.3 771.50,304.1 772.25,317.8 773.00,302.1 773.75,316.0 774.50,301.3 775.25,315.7 776.00,297.8 776.75,311.5 777.50,291.5 778.25,306.1 779.00,284.8 779.75,303.8 780.50,287.5 781.25,305.2 782.00,292.5 782.75,308.0 783.50,294.2 784.25,306.9 785.00,297.7 785.75,317.0 786.50,311.9 787.25,328.4 788.00,314.1 788.75,326.7 789.50,311.8 790.25,327.0 791.00,312.7 791.75,326.3 792.50,313.6 793.25,327.5 794.00,315.9 794.75,329.7 795.50,318.9 796.25,330.2 797.00,322.5 797.75,329.9 798.50,317.0 799.25,327.9 800.00,314.3 800.75,327.1 801.50,312.5 802.25,327.4 803.00,313.8 803.75,327.4 804.50,312.8 805.25,325.0 806.00,311.6 806.75,327.8 807.50,313.9 808.25,331.7 809.00,320.7 809.75,333.1 810.50,323.6 811.25,338.7 812.00,328.8 812.75,343.1 813.50,336.1 814.25,350.3 815.00,342.5 815.75,354.3 816.50,348.1 817.25,359.9 818.00,352.5 818.75,364.3 819.50,356.5 820.25,366.2 821.00,359.1 821.75,367.6 822.50,357.7 823.25,364.7 824.00,353.4 824.75,358.3 825.50,342.9 826.25,348.9 827.00,333.4 827.75,338.3 828.50,318.1 829.25,330.3 830.00,317.5 830.75,327.8 831.50,313.9 832.25,320.3 833.00,309.5 833.75,317.2 834.50,304.9 835.25,319.4 836.00,304.3 836.75,318.8 837.50,298.6 838.25,312.1 839.00,286.2 839.75,315.2 840.50,299.4 841.25,322.0 842.00,305.8 842.75,323.9 843.50,310.1 844.25,326.1 845.00,311.2 845.75,327.9 846.50,316.0 847.25,329.6 848.00,313.3 848.75,329.7 849.50,312.8 850.25,326.7 851.00,308.6 851.75,320.2 852.50,302.7 853.25,314.8 854.00,293.2 854.75,310.5 855.50,291.1 856.25,315.1 857.00,301.3 857.75,315.8 858.50,303.0 859.25,317.2 860.00,303.2 860.75,313.8 861.50,292.5 862.25,310.9 863.00,296.0 863.75,309.7 864.50,298.8 865.25,309.7 866.00,296.5 866.75,309.7 867.50,298.4 868.25,314.0 869.00,302.6 869.75,314.8 870.50,299.9 871.25,313.3 872.00,297.8 872.75,315.1 873.50,302.5 874.25,316.4 875.00,302.4 875.75,314.5 876.50,299.4 877.25,315.8 878.00,298.0 878.75,317.2 879.50,297.9 880.25,314.5 881.00,298.6 881.75,313.8 882.50,299.7 883.25,312.2 884.00,300.1 884.75,309.2 885.50,301.7 886.25,311.0 887.00,299.6 887.75,310.4 888.50,297.5 889.25,310.3 890.00,293.7 890.75,308.3 891.50,290.6 892.25,311.4 893.00,300.4 893.75,318.3 894.50,305.4 895.25,319.3 896.00,309.3 896.75,322.7 897.50,310.1 898.25,324.1 899.00,311.2 899.75,324.4 900.50,313.8 901.25,327.2 902.00,315.2 902.75,329.4 903.50,312.4 904.25,328.2 905.00,314.6 905.75,330.7 906.50,325.8 907.25,338.8 908.00,331.4 908.75,341.3 909.50,332.9 910.25,341.0 911.00,332.7 911.75,340.4 912.50,334.2 913.25,345.3 914.00,341.2 914.75,351.7 915.50,346.5 916.25,359.2 917.00,351.7 917.75,363.3 918.50,356.4 919.25,368.4 920.00,358.3 920.75,368.7 921.50,359.6 922.25,369.4 923.00,356.7 923.75,367.5 924.50,355.2 925.25,365.1 926.00,349.8 926.75,357.7 927.50,342.7 928.25,349.4 929.00,335.9 929.75,345.2 930.50,332.4 931.25,340.3 932.00,326.0 932.75,333.9 933.50,327.9 934.25,343.1 935.00,341.7 935.75,358.0 936.50,358.8 937.25,367.0 938.00,367.0 938.75,375.3 939.50,371.7 940.25,374.0 941.00,368.6 941.75,371.6 942.50,363.7 943.25,364.9 944.00,353.8 944.75,355.9 945.50,344.7 946.25,348.8 947.00,336.5 947.75,340.5 948.50,334.2 949.25,345.0 950.00,340.9 950.75,353.4 951.50,346.3 952.25,357.3 953.00,349.3 953.75,361.3 954.50,353.3 955.25,363.6 956.00,356.6 956.75,366.3 957.50,358.2 958.25,369.5 959.00,361.2 959.75,368.7 960.50,359.4 961.25,366.9 962.00,355.9 962.75,363.6 963.50,338.1 964.25,351.6 965.00,325.2 965.75,336.8 966.50,306.3 967.25,317.6 968.00,288.3 968.75,302.8 969.50,266.1 970.25,285.7 971.00,249.3 971.75,284.2 972.50,247.6 973.25,280.5 974.00,232.5 974.75,269.1 975.50,208.6 976.25,246.2 977.00,207.7 977.75,236.9 978.50,217.7 979.25,236.5 980.00,207.9 980.75,231.3 981.50,206.8 982.25,231.0 983.00,204.9 983.75,230.8 984.50,207.4 985.25,240.1 986.00,210.5 986.75,249.5 987.50,208.5 988.25,242.8 989.00,208.9 989.75,249.8 990.50,212.6 991.25,253.1 992.00,211.9 992.75,256.2 993.50,224.0 994.25,268.3 995.00,232.9 995.75,283.8 996.50,254.3 997.25,297.9 998.00,254.5 998.75,291.0 999.50,257.5 1000.25,293.5 1001.00,259.7 1001.75,290.3 1002.50,259.1 1003.25,288.9 1004.00,263.3 1004.75,282.6 1005.50,263.9 1006.25,284.2 1007.00,259.4 1007.75,273.0 1008.50,235.4 1009.25,272.7 1010.00,241.9 1010.75,278.2 1011.50,258.6 1012.25,288.2 1013.00,263.0 1013.75,294.7 1014.50,274.3 1015.25,299.5 1016.00,282.1 1016.75,301.7 1017.50,289.2 1018.25,307.2 1019.00,293.0 1019.75,307.5 1020.50,292.5 1021.25,309.4 1022.00,299.5 1022.75,317.1 1023.50,305.3 1024.25,321.8 1025.00,303.3 1025.75,327.8 1026.50,312.5 1027.25,331.8 1028.00,327.3 1028.75,343.2 1029.50,337.8 1030.25,352.2 1031.00,348.8 1031.75,361.2 1032.50,357.3 1033.25,366.5 1034.00,354.3 1034.75,355.6 1035.50,347.2 1036.25,348.3 1037.00,341.5 1037.75,342.0 1038.50,337.5 1039.25,342.6 1040.00,335.4 1040.75,344.3 1041.50,332.3 1042.25,343.8 1043.00,324.1 1043.75,341.7 1044.50,325.2 1045.25,342.7 1046.00,321.7 1046.75,339.6 1047.50,304.8 1048.25,306.9 1049.00,249.3 1049.75,274.8 1050.50,237.9 1051.25,276.6 1052.00,235.6 1052.75,277.3 1053.50,237.5 1054.25,279.0 1055.00,258.7 1055.75,292.2 1056.50,269.0 1057.25,303.2 1058.00,291.3 1058.75,311.9 1059.50,300.0 1060.25,316.7 1061.00,302.5 1061.75,318.0 1062.50,303.2 1063.25,313.0 1064.00,295.1 1064.75,308.3 1065.50,293.9 1066.25,312.1 1067.00,300.0 1067.75,314.6 1068.50,297.2 1069.25,313.5 1070.00,293.0 1070.75,313.1 1071.50,296.1 1072.25,311.0 1073.00,292.2 1073.75,303.9 1074.50,274.1 1075.25,294.8 1076.00,277.6 1076.75,298.9 1077.50,286.5 1078.25,306.1 1079.00,291.3 1079.75,313.7 1080.50,292.9 1081.25,315.5 1082.00,287.4 1082.75,317.7 1083.50,287.6 1084.25,309.3 1085.00,278.7 1085.75,297.1 1086.50,274.8 1087.25,291.8 1088.00,267.2 1088.75,282.9 1089.50,260.8 1090.25,272.6 1091.00,255.9 1091.75,271.0 1092.50,254.2 1093.25,272.6 1094.00,251.9 1094.75,270.9 1095.50,253.8 1096.25,272.0 1097.00,257.6 1097.75,275.0 1098.50,259.5 1099.25,278.4 1100.00,258.4 1100.75,272.4 1101.50,250.9 1102.25,268.3 1103.00,250.6 1103.75,267.7 1104.50,250.5 1105.25,273.1 1106.00,265.4 1106.75,280.8 1107.50,273.0 1108.25,289.4 1109.00,280.8 1109.75,298.2 1110.50,291.3 1111.25,303.4 1112.00,291.8 1112.75,297.8 1113.50,285.3 1114.25,290.0 1115.00,282.4 1115.75,289.9 1116.50,282.3 1117.25,291.2 1118.00,282.4 1118.75,291.0 1119.50,281.7 1120.25,289.3 1121.00,281.1 1121.75,290.9 1122.50,282.6 1123.25,294.4 1124.00,287.5 1124.75,295.5 1125.50,286.4 1126.25,295.8 1127.00,285.2 1127.75,292.7 1128.50,278.6 1129.25,288.0 1130.00,279.7 1130.75,288.2 1131.50,281.2 1132.25,286.3 1133.00,279.0 1133.75,283.6 1134.50,274.8 1135.25,280.3 1136.00,270.9 1136.75,277.4 1137.50,267.6 1138.25,276.0 1139.00,258.1 1139.75,273.5 1140.50,264.5 1141.25,277.7 1142.00,265.3 1142.75,277.8 1143.50,263.0 1144.25,275.8 1145.00,259.6 1145.75,271.2 1146.50,259.6 1147.25,271.7 1148.00,260.9 1148.75,273.7 1149.50,260.9 1150.25,274.7 1151.00,260.5 1151.75,273.7 1152.50,262.1 1153.25,274.2 1154.00,260.4 1154.75,271.0 1155.50,259.6 1156.25,269.8 1157.00,259.1 1157.75,271.6 1158.50,259.6 1159.25,271.0 1160.00,258.6 1160.75,271.2 1161.50,261.3 1162.25,277.2 1163.00,270.1 1163.75,285.2 1164.50,278.2 1165.25,292.3 1166.00,278.7 1166.75,281.5 1167.50,258.8 1168.25,269.4 1169.00,252.0 1169.75,264.0 1170.50,252.4 1171.25,269.2 1172.00,259.8 1172.75,274.3 1173.50,263.2 1174.25,275.0 1175.00,263.5 1175.75,272.3 1176.50,256.3 1177.25,266.5 1178.00,253.7 1178.75,268.5 1179.50,256.1 1180.25,269.5 1181.00,258.9 1181.75,272.2 1182.50,262.5 1183.25,273.6 1184.00,263.6 1184.75,276.5 1185.50,269.1 1186.25,280.7 1187.00,274.4 1187.75,281.8 1188.50,265.2 1189.25,274.0 1190.00,252.6 1190.75,268.6 1191.50,255.3 1192.25,269.0 1193.00,261.1 1193.75,273.7 1194.50,266.6 1195.25,276.5 1196.00,265.2 1196.75,273.8 1197.50,261.4 1198.25,273.6 1199.00,262.8 1199.75,274.4 1200.50,265.8 1201.25,276.2 1202.00,269.7 1202.75,279.7 1203.50,273.7 1204.25,283.8 1205.00,278.7 1205.75,286.4 1206.50,279.9 1207.25,286.0 1208.00,276.1 1208.75,280.4 1209.50,268.3 1210.25,280.8 1211.00,273.6 1211.75,284.7 1212.50,276.9 1213.25,285.4 1214.00,274.3 1214.75,283.7 1215.50,273.0 1216.25,281.7 1217.00,270.5 1217.75,282.9 1218.50,271.1 1219.25,285.3 1220.00,271.6 1220.75,282.3 1221.50,264.6 1222.25,278.1 1223.00,259.9 1223.75,279.1 1224.50,269.1 1225.25,286.5 1226.00,282.9 1226.75,296.4 1227.50,288.1 1228.25,298.0 1229.00,286.8 1229.75,293.9 1230.50,280.5 1231.25,291.4 1232.00,280.4 1232.75,291.6 1233.50,280.2 1234.25,291.4 1235.00,281.5 1235.75,288.8 1236.50,281.7 1237.25,290.2 1238.00,284.7 1238.75,292.9 1239.50,287.3 1240.25,294.1 1241.00,288.5 1241.75,293.1 1242.50,287.3 1243.25,291.9 1244.00,287.2 1244.75,293.7 1245.50,289.3 1246.25,295.3 1247.00,289.2 1247.75,295.4 1248.50,287.5 1249.25,292.5 1250.00,283.2 1250.75,293.2 1251.50,290.9 1252.25,302.6 1253.00,299.1 1253.75,302.5 1254.50,293.4 1255.25,295.6 1256.00,286.1 1256.75,291.8 1257.50,282.3 1258.25,291.3 1259.00,282.2 1259.75,295.0 1260.50,285.0 1261.25,301.1 1262.00,304.3 1262.75,315.6" fill="none" stroke="#0000ff" stroke-width="3.1" stroke-linejoin="round"/>
<polyline points="188.00,287.0 188.50,281.6 189.00,305.8 189.50,294.3 190.00,265.5 190.50,307.8 191.00,280.7 191.50,276.1 192.00,288.8 192.50,284.2 193.00,271.5 193.50,281.3 194.00,282.8 194.50,298.9 195.00,274.2 195.50,274.8 196.00,307.7 196.50,315.0 197.00,281.5 197.50,304.4 198.00,319.5 198.50,279.5 199.00,279.5 199.50,284.8 200.00,310.7 200.50,313.3 201.00,302.1 201.50,289.6 202.00,290.8 202.50,284.7 203.00,296.7 203.50,268.4 204.00,269.1 204.50,262.7 205.00,257.7 205.50,263.5 206.00,262.5 206.50,282.5 207.00,260.3 207.50,278.5 208.00,252.8 208.50,234.0 209.00,241.0 209.50,248.2 210.00,246.1 210.50,267.5 211.00,266.5 211.50,259.4 212.00,225.2 212.50,221.3 213.00,262.5 213.50,243.7 214.00,181.1 214.50,182.3 215.00,175.5 215.50,247.5 216.00,221.4 216.50,253.2 217.00,251.5 217.50,230.8 218.00,206.1 218.50,239.0 219.00,215.2 219.50,194.9 220.00,223.9 220.50,216.6 221.00,243.2 221.50,217.5 222.00,170.5 222.50,203.2 223.00,163.5 223.50,235.1 224.00,241.2 224.50,204.8 225.00,149.5 225.50,156.5 226.00,215.6 226.50,204.4 227.00,193.1 227.50,199.7 228.00,248.5 228.50,246.7 229.00,254.6 229.50,261.8 230.00,269.5 230.50,265.0 231.00,217.5 231.50,216.5 232.00,199.2 232.50,194.2 233.00,235.3 233.50,185.5 234.00,211.8 234.50,198.7 235.00,198.4 235.50,232.8 236.00,214.3 236.50,214.4 237.00,241.7 237.50,253.6 238.00,267.4 238.50,280.5 239.00,179.3 239.50,166.5 240.00,237.1 240.50,255.2 241.00,195.3 241.50,247.0 242.00,197.5 242.50,228.3 243.00,217.4 243.50,198.9 244.00,230.5 244.50,207.0 245.00,171.4 245.50,169.5 246.00,207.7 246.50,248.3 247.00,192.6 247.50,211.5 248.00,250.8 248.50,248.3 249.00,222.0 249.50,196.8 250.00,198.5 250.50,193.8 251.00,200.4 251.50,184.3 252.00,179.6 252.50,204.2 253.00,197.0 253.50,164.5 254.00,187.8 254.50,174.0 255.00,250.7 255.50,276.0 256.00,277.1 256.50,278.2 257.00,279.3 257.50,280.4 258.00,281.5 258.50,280.4 259.00,279.2 259.50,253.6 260.00,225.2 260.50,256.9 261.00,243.8 261.50,237.1 262.00,203.8 262.50,187.5 263.00,179.5 263.50,262.7 264.00,204.5 264.50,246.4 265.00,257.9 265.50,271.5 266.00,290.5 266.50,279.3 267.00,239.4 267.50,258.7 268.00,250.1 268.50,274.0 269.00,274.3 269.50,277.6 270.00,261.4 270.50,276.0 271.00,264.0 271.50,279.8 272.00,271.2 272.50,255.8 273.00,279.0 273.50,267.2 274.00,298.5 274.50,294.4 275.00,294.0 275.50,288.1 276.00,283.4 276.50,261.5 277.00,290.3 277.50,270.0 278.00,259.5 278.50,279.0 279.00,283.9 279.50,287.2 280.00,276.0 280.50,291.0 281.00,311.4 281.50,305.9 282.00,295.5 282.50,301.8 283.00,321.8 283.50,346.3 284.00,352.5 284.50,349.3 285.00,360.5 285.50,346.6 286.00,337.5 286.50,327.8 287.00,340.8 287.50,339.3 288.00,334.9 288.50,305.3 289.00,294.5 289.50,298.0 290.00,307.8 290.50,316.3 291.00,331.5 291.50,330.6 292.00,326.0 292.50,340.4 293.00,325.6 293.50,309.5 294.00,307.5 294.50,348.5 295.00,318.6 295.50,312.8 296.00,301.0 296.50,332.1 297.00,313.3 297.50,297.9 298.00,303.9 298.50,296.4 299.00,299.8 299.50,321.0 300.00,306.6 300.50,304.6 301.00,298.3 301.50,297.2 302.00,311.8 302.50,313.7 303.00,299.6 303.50,281.8 304.00,286.5 304.50,306.0 305.00,298.5 305.50,292.1 306.00,265.5 306.50,294.3 307.00,263.8 307.50,263.0 308.00,262.2 308.50,276.7 309.00,260.5 309.50,269.7 310.00,273.8 310.50,270.2 311.00,265.0 311.50,266.1 312.00,267.2 312.50,289.1 313.00,288.7 313.50,309.4 314.00,313.8 314.50,316.8 315.00,317.0 315.50,317.2 316.00,304.9 316.50,317.8 317.00,293.0 317.50,295.3 318.00,311.4 318.50,300.5 319.00,312.4 319.50,294.0 320.00,290.6 320.50,306.8 321.00,317.0 321.50,324.5 322.00,316.0 322.50,316.0 323.00,321.6 323.50,322.1 324.00,294.6 324.50,292.1 325.00,326.4 325.50,292.8 326.00,312.7 326.50,300.5 327.00,279.5 327.50,299.1 328.00,305.9 328.50,284.5 329.00,335.5 329.50,322.8 330.00,289.8 330.50,320.6 331.00,300.2 331.50,301.8 332.00,282.4 332.50,298.9 333.00,283.6 333.50,277.5 334.00,278.2 334.50,278.7 335.00,306.8 335.50,295.3 336.00,315.2 336.50,305.7 337.00,311.1 337.50,299.1 338.00,327.5 338.50,327.3 339.00,327.1 339.50,326.9 340.00,310.1 340.50,323.9 341.00,326.2 341.50,292.7 342.00,286.2 342.50,325.6 343.00,284.5 343.50,314.8 344.00,318.6 344.50,324.7 345.00,324.5 345.50,314.0 346.00,326.2 346.50,324.2 347.00,305.0 347.50,301.3 348.00,306.1 348.50,305.4 349.00,308.2 349.50,316.9 350.00,299.5 350.50,300.5 351.00,317.4 351.50,325.8 352.00,336.5 352.50,304.6 353.00,327.2 353.50,316.2 354.00,306.5 354.50,330.5 355.00,315.8 355.50,322.0 356.00,312.1 356.50,308.2 357.00,288.1 357.50,281.1 358.00,315.1 358.50,286.8 359.00,299.8 359.50,277.5 360.00,289.1 360.50,299.4 361.00,291.5 361.50,316.7 362.00,316.5 362.50,336.1 363.00,319.1 363.50,337.8 364.00,348.5 364.50,354.0 365.00,340.3 365.50,355.5 366.00,362.0 366.50,367.2 367.00,381.5 367.50,372.0 368.00,374.8 368.50,370.4 369.00,381.5 369.50,366.5 370.00,354.2 370.50,362.8 371.00,354.2 371.50,343.7 372.00,339.6 372.50,345.0 373.00,337.7 373.50,331.6 374.00,330.5 374.50,334.6 375.00,351.8 375.50,348.7 376.00,336.4 376.50,356.7 377.00,349.4 377.50,337.4 378.00,343.8 378.50,361.4 379.00,363.4 379.50,365.1 380.00,366.5 380.50,366.7 381.00,364.2 381.50,357.8 382.00,346.5 382.50,351.7 383.00,367.7 383.50,351.5 384.00,365.5 384.50,364.8 385.00,358.7 385.50,361.0 386.00,370.0 386.50,363.9 387.00,369.0 387.50,372.2 388.00,361.9 388.50,368.1 389.00,353.5 389.50,364.3 390.00,371.5 390.50,367.4 391.00,364.9 391.50,362.2 392.00,370.0 392.50,369.8 393.00,381.5 393.50,363.4 394.00,359.2 394.50,355.1 395.00,361.6 395.50,350.8 396.00,367.0 396.50,362.7 397.00,334.5 397.50,339.6 398.00,365.3 398.50,345.1 399.00,356.0 399.50,366.5 400.00,361.5 400.50,354.2 401.00,357.1 401.50,364.8 402.00,368.5 402.50,368.0 403.00,351.1 403.50,345.6 404.00,351.5 404.50,339.0 405.00,341.8 405.50,365.0 406.00,345.4 406.50,364.7 407.00,340.5 407.50,337.8 408.00,341.8 408.50,319.5 409.00,381.5 409.50,375.4 410.00,379.5 410.50,380.6 411.00,366.6 411.50,367.6 412.00,371.2 412.50,376.4 413.00,379.9 413.50,371.4 414.00,379.5 414.50,374.5 415.00,370.8 415.50,362.6 416.00,364.8 416.50,364.2 417.00,357.8 417.50,358.2 418.00,354.5 418.50,361.7 419.00,371.0 419.50,363.9 420.00,373.9 420.50,372.6 421.00,380.5 421.50,365.8 422.00,367.9 422.50,368.3 423.00,374.7 423.50,362.1 424.00,357.5 424.50,364.1 425.00,376.9 425.50,377.9 426.00,371.8 426.50,380.7 427.00,381.5 427.50,376.4 428.00,378.5 428.50,380.3 429.00,380.7 429.50,381.4 430.00,381.5 430.50,381.4 431.00,380.4 431.50,379.6 432.00,380.6 432.50,377.3 433.00,377.8 433.50,374.5 434.00,373.5 434.50,372.5 435.00,377.2 435.50,370.5 436.00,369.5 436.50,377.1 437.00,381.5 437.50,381.0 438.00,381.5 438.50,381.3 439.00,381.5 439.50,378.9 440.00,376.9 440.50,368.5 441.00,370.7 441.50,380.0 442.00,370.3 442.50,360.5 443.00,381.5 443.50,377.0 444.00,379.2 444.50,354.0 445.00,345.5 445.50,354.1 446.00,361.4 446.50,349.2 447.00,360.7 447.50,358.4 448.00,362.6 448.50,361.7 449.00,356.3 449.50,362.9 450.00,358.4 450.50,354.1 451.00,362.4 451.50,359.3 452.00,352.0 452.50,361.8 453.00,353.0 453.50,353.0 454.00,358.5 454.50,361.8 455.00,360.5 455.50,359.2 456.00,357.2 456.50,341.8 457.00,355.5 457.50,354.2 458.00,323.5 458.50,349.1 459.00,339.1 459.50,328.0 460.00,345.6 460.50,349.0 461.00,349.2 461.50,360.5 462.00,362.5 462.50,350.4 463.00,333.9 463.50,328.5 464.00,328.1 464.50,327.5 465.00,332.8 465.50,330.9 466.00,318.8 466.50,313.9 467.00,298.5 467.50,335.2 468.00,323.8 468.50,341.4 469.00,356.5 469.50,336.4 470.00,346.7 470.50,339.1 471.00,329.4 471.50,351.5 472.00,344.6 472.50,345.8 473.00,339.1 473.50,328.9 474.00,345.0 474.50,342.5 475.00,340.4 475.50,320.0 476.00,325.6 476.50,336.6 477.00,335.5 477.50,328.9 478.00,341.5 478.50,334.8 479.00,335.9 479.50,340.0 480.00,339.5 480.50,302.6 481.00,285.5 481.50,298.5 482.00,290.8 482.50,303.5 483.00,296.2 483.50,298.8 484.00,301.5 484.50,299.0 485.00,296.5 485.50,313.7 486.00,314.6 486.50,312.2 487.00,317.5 487.50,350.1 488.00,329.6 488.50,326.8 489.00,353.8 489.50,279.3 490.00,354.5 490.50,251.0 491.00,255.0 491.50,250.0 492.00,267.8 492.50,273.0 493.00,248.5 493.50,267.0 494.00,249.2 494.50,281.5 495.00,285.1 495.50,307.8 496.00,308.5 496.50,288.9 497.00,292.1 497.50,288.4 498.00,264.3 498.50,250.2 499.00,294.5 499.50,312.6 500.00,284.0 500.50,274.4 501.00,247.9 501.50,302.9 502.00,313.0 502.50,273.7 503.00,271.9 503.50,267.3 504.00,284.5 504.50,303.1 505.00,313.5 505.50,289.0 506.00,259.6 506.50,289.8 507.00,302.7 507.50,249.5 508.00,288.7 508.50,298.1 509.00,316.5 509.50,301.7 510.00,308.6 510.50,302.9 511.00,270.1 511.50,304.9 512.00,301.1 512.50,259.5 513.00,273.0 513.50,269.8 514.00,300.5 514.50,269.0 515.00,284.1 515.50,287.8 516.00,291.7 516.50,299.4 517.00,346.5 517.50,296.1 518.00,312.7 518.50,340.6 519.00,345.2 519.50,339.6 520.00,344.5 520.50,275.6 521.00,300.7 521.50,269.5 522.00,327.2 522.50,312.7 523.00,296.6 523.50,294.3 524.00,301.0 524.50,309.6 525.00,315.2 525.50,308.6 526.00,292.2 526.50,324.1 527.00,305.5 527.50,296.5 528.00,317.5 528.50,326.8 529.00,319.5 529.50,327.8 530.00,323.5 530.50,302.4 531.00,309.1 531.50,290.5 532.00,290.9 532.50,287.9 533.00,303.1 533.50,326.9 534.00,300.9 534.50,314.0 535.00,279.8 535.50,278.1 536.00,276.5 536.50,326.2 537.00,332.1 537.50,332.2 538.00,278.0 538.50,282.8 539.00,276.5 539.50,278.3 540.00,303.4 540.50,299.7 541.00,285.9 541.50,313.2 542.00,325.2 542.50,320.2 543.00,342.5 543.50,307.0 544.00,278.5 544.50,315.0 545.00,324.6 545.50,311.8 546.00,279.8 546.50,289.1 547.00,306.7 547.50,297.2 548.00,308.8 548.50,293.3 549.00,336.1 549.50,330.7 550.00,323.6 550.50,337.6 551.00,346.5 551.50,327.1 552.00,343.8 552.50,339.8 553.00,325.3 553.50,313.1 554.00,271.5 554.50,301.6 555.00,310.0 555.50,289.9 556.00,335.3 556.50,320.5 557.00,293.0 557.50,297.7 558.00,307.7 558.50,311.6 559.00,297.6 559.50,310.3 560.00,291.5 560.50,295.6 561.00,318.4 561.50,302.4 562.00,342.5 562.50,336.9 563.00,309.9 563.50,289.8 564.00,315.0 564.50,339.5 565.00,286.7 565.50,306.6 566.00,315.8 566.50,279.2 567.00,279.8 567.50,275.5 568.00,322.8 568.50,316.1 569.00,342.5 569.50,310.3 570.00,285.5 570.50,335.7 571.00,348.5 571.50,315.5 572.00,346.0 572.50,335.9 573.00,330.2 573.50,313.0 574.00,330.6 574.50,343.2 575.00,327.6 575.50,307.4 576.00,324.9 576.50,315.2 577.00,326.6 577.50,329.8 578.00,338.7 578.50,338.2 579.00,349.5 579.50,347.9 580.00,319.3 580.50,321.6 581.00,326.0 581.50,287.5 582.00,292.5 582.50,306.3 583.00,310.8 583.50,334.2 584.00,331.9 584.50,338.3 585.00,335.4 585.50,329.1 586.00,340.1 586.50,332.7 587.00,341.3 587.50,317.5 588.00,315.5 588.50,340.0 589.00,342.7 589.50,342.8 590.00,322.6 590.50,322.9 591.00,337.1 591.50,335.0 592.00,343.3 592.50,321.0 593.00,343.5 593.50,342.8 594.00,342.1 594.50,341.4 595.00,340.7 595.50,317.1 596.00,301.5 596.50,297.8 597.00,308.4 597.50,337.2 598.00,325.5 598.50,283.2 599.00,279.5 599.50,299.5 600.00,297.3 600.50,330.2 601.00,329.0 601.50,327.8 602.00,306.4 602.50,313.3 603.00,290.7 603.50,319.8 604.00,290.2 604.50,321.0 605.00,313.3 605.50,309.5 606.00,276.0 606.50,304.1 607.00,272.7 607.50,271.1 608.00,269.5 608.50,316.7 609.00,307.4 609.50,283.6 610.00,300.1 610.50,314.3 611.00,306.3 611.50,272.1 612.00,260.5 612.50,277.1 613.00,310.5 613.50,295.9 614.00,286.1 614.50,269.2 615.00,265.5 615.50,294.2 616.00,291.7 616.50,292.2 617.00,241.1 617.50,278.9 618.00,285.5 618.50,232.5 619.00,308.5 619.50,289.2 620.00,296.1 620.50,300.4 621.00,321.5 621.50,267.3 622.00,303.7 622.50,312.0 623.00,302.9 623.50,305.7 624.00,285.8 624.50,269.3 625.00,269.1 625.50,225.1 626.00,299.8 626.50,309.2 627.00,235.8 627.50,283.1 628.00,298.4 628.50,324.8 629.00,329.5 629.50,289.8 630.00,319.2 630.50,314.0 631.00,308.8 631.50,276.9 632.00,262.1 632.50,287.3 633.00,252.2 633.50,286.2 634.00,315.9 634.50,324.5 635.00,252.8 635.50,254.8 636.00,261.8 636.50,241.5 637.00,289.3 637.50,274.5 638.00,259.0 638.50,264.4 639.00,264.3 639.50,262.9 640.00,261.4 640.50,260.0 641.00,258.5 641.50,268.4 642.00,289.1 642.50,292.2 643.00,310.6 643.50,274.7 644.00,262.5 644.50,259.8 645.00,280.0 645.50,310.8 646.00,253.5 646.50,314.3 647.00,299.5 647.50,320.8 648.00,307.8 648.50,277.6 649.00,313.3 649.50,294.4 650.00,268.8 650.50,280.7 651.00,270.1 651.50,289.4 652.00,275.8 652.50,282.7 653.00,276.2 653.50,288.9 654.00,315.6 654.50,314.7 655.00,263.5 655.50,340.5 656.00,277.9 656.50,303.7 657.00,338.2 657.50,334.3 658.00,339.5 658.50,305.6 659.00,335.7 659.50,310.3 660.00,335.9 660.50,329.0 661.00,336.8 661.50,313.5 662.00,315.0 662.50,304.2 663.00,317.0 663.50,328.9 664.00,327.4 664.50,336.2 665.00,334.7 665.50,288.5 666.00,327.7 666.50,309.2 667.00,329.6 667.50,325.3 668.00,325.1 668.50,318.3 669.00,310.8 669.50,301.8 670.00,307.3 670.50,323.2 671.00,296.5 671.50,308.0 672.00,331.2 672.50,330.8 673.00,318.7 673.50,321.7 674.00,313.3 674.50,314.6 675.00,316.0 675.50,292.5 676.00,330.5 676.50,322.9 677.00,278.5 677.50,326.1 678.00,334.7 678.50,324.8 679.00,335.5 679.50,335.9 680.00,336.3 680.50,331.2 681.00,290.0 681.50,301.3 682.00,323.2 682.50,323.1 683.00,307.9 683.50,297.4 684.00,284.5 684.50,293.1 685.00,281.5 685.50,336.0 686.00,339.8 686.50,322.9 687.00,326.2 687.50,323.8 688.00,332.2 688.50,332.7 689.00,339.0 689.50,328.7 690.00,326.8 690.50,344.2 691.00,344.5 691.50,307.4 692.00,323.3 692.50,329.1 693.00,338.6 693.50,299.1 694.00,297.0 694.50,294.9 695.00,310.4 695.50,294.2 696.00,327.2 696.50,335.3 697.00,332.5 697.50,334.7 698.00,301.0 698.50,305.1 699.00,288.9 699.50,312.5 700.00,334.6 700.50,281.5 701.00,292.3 701.50,304.5 702.00,328.8 702.50,291.8 703.00,309.8 703.50,326.0 704.00,303.5 704.50,298.6 705.00,331.2 705.50,334.4 706.00,337.2 706.50,330.7 707.00,295.9 707.50,303.5 708.00,292.3 708.50,296.5 709.00,278.5 709.50,338.1 710.00,327.8 710.50,338.4 711.00,338.5 711.50,307.6 712.00,314.7 712.50,293.0 713.00,292.5 713.50,293.4 714.00,310.0 714.50,322.2 715.00,319.4 715.50,310.5 716.00,289.5 716.50,305.2 717.00,288.5 717.50,334.7 718.00,309.7 718.50,318.2 719.00,327.1 719.50,340.4 720.00,321.2 720.50,331.2 721.00,336.1 721.50,324.8 722.00,324.5 722.50,319.9 723.00,326.2 723.50,331.9 724.00,311.9 724.50,321.6 725.00,347.5 725.50,337.4 726.00,309.8 726.50,344.2 727.00,331.0 727.50,333.1 728.00,340.4 728.50,305.5 729.00,310.2 729.50,311.4 730.00,330.2 730.50,332.4 731.00,329.4 731.50,353.1 732.00,351.3 732.50,354.3 733.00,354.9 733.50,354.5 734.00,340.8 734.50,338.9 735.00,343.9 735.50,357.9 736.00,358.5 736.50,349.3 737.00,339.8 737.50,350.9 738.00,355.3 738.50,344.7 739.00,353.7 739.50,350.9 740.00,344.0 740.50,337.9 741.00,330.2 741.50,329.6 742.00,349.3 742.50,324.1 743.00,326.5 743.50,331.9 744.00,319.0 744.50,322.6 745.00,316.5 745.50,315.5 746.00,343.1 746.50,319.5 747.00,347.4 747.50,327.4 748.00,321.1 748.50,322.3 749.00,331.9 749.50,324.3 750.00,327.6 750.50,335.8 751.00,344.8 751.50,337.5 752.00,347.2 752.50,338.6 753.00,346.1 753.50,334.8 754.00,340.8 754.50,337.6 755.00,340.1 755.50,349.7 756.00,346.3 756.50,341.6 757.00,340.5 757.50,342.3 758.00,351.5 758.50,335.7 759.00,318.0 759.50,316.2 760.00,320.5 760.50,312.8 761.00,323.7 761.50,340.2 762.00,329.9 762.50,311.4 763.00,319.8 763.50,337.7 764.00,331.3 764.50,336.0 765.00,335.2 765.50,312.8 766.00,327.8 766.50,301.7 767.00,318.1 767.50,323.4 768.00,313.9 768.50,294.8 769.00,297.7 769.50,301.3 770.00,314.7 770.50,311.0 771.00,318.8 771.50,308.2 772.00,290.5 772.50,299.6 773.00,289.5 773.50,302.2 774.00,289.5 774.50,289.5 775.00,330.5 775.50,295.7 776.00,321.8 776.50,313.4 777.00,303.6 777.50,303.0 778.00,324.5 778.50,323.5 779.00,322.5 779.50,267.5 780.00,320.5 780.50,319.5 781.00,306.8 781.50,310.5 782.00,289.9 782.50,308.9 783.00,299.8 783.50,297.4 784.00,283.5 784.50,296.7 785.00,307.1 785.50,293.0 786.00,313.1 786.50,323.9 787.00,342.5 787.50,342.8 788.00,323.8 788.50,343.2 789.00,296.5 789.50,325.7 790.00,308.2 790.50,332.5 791.00,342.3 791.50,321.7 792.00,296.5 792.50,316.7 793.00,345.5 793.50,298.5 794.00,323.2 794.50,328.8 795.00,332.4 795.50,332.1 796.00,329.6 796.50,341.8 797.00,311.8 797.50,330.6 798.00,309.9 798.50,313.6 799.00,319.9 799.50,320.7 800.00,297.5 800.50,307.8 801.00,342.8 801.50,342.7 802.00,342.5 802.50,342.3 803.00,323.4 803.50,297.5 804.00,297.5 804.50,309.5 805.00,296.5 805.50,324.2 806.00,329.8 806.50,305.8 807.00,294.5 807.50,297.5 808.00,304.8 808.50,323.8 809.00,346.3 809.50,315.7 810.00,340.7 810.50,338.7 811.00,333.5 811.50,334.7 812.00,341.5 812.50,355.8 813.00,357.5 813.50,359.2 814.00,345.3 814.50,343.5 815.00,358.8 815.50,359.5 816.00,345.3 816.50,369.5 817.00,371.2 817.50,372.8 818.00,365.0 818.50,362.2 819.00,348.6 819.50,345.5 820.00,357.6 820.50,358.4 821.00,378.5 821.50,378.2 822.00,377.8 822.50,373.2 823.00,368.6 823.50,370.0 824.00,376.5 824.50,371.0 825.00,371.2 825.50,342.9 826.00,327.9 826.50,331.5 827.00,351.0 827.50,323.9 828.00,352.2 828.50,297.5 829.00,326.0 829.50,325.0 830.00,343.7 830.50,321.0 831.00,311.6 831.50,312.0 832.00,323.6 832.50,329.6 833.00,303.1 833.50,295.1 834.00,288.5 834.50,330.8 835.00,329.8 835.50,333.7 836.00,287.0 836.50,303.5 837.00,301.9 837.50,328.6 838.00,273.7 838.50,331.1 839.00,259.5 839.50,339.8 840.00,290.9 840.50,341.2 841.00,341.8 841.50,337.7 842.00,329.7 842.50,319.3 843.00,325.6 843.50,328.7 844.00,344.9 844.50,345.1 845.00,321.1 845.50,328.5 846.00,345.8 846.50,324.5 847.00,325.5 847.50,346.4 848.00,346.3 848.50,325.9 849.00,339.2 849.50,347.3 850.00,347.5 850.50,341.7 851.00,344.2 851.50,313.0 852.00,323.5 852.50,334.3 853.00,301.9 853.50,288.2 854.00,281.2 854.50,298.6 855.00,265.5 855.50,319.1 856.00,334.5 856.50,312.0 857.00,315.3 857.50,323.3 858.00,286.3 858.50,295.5 859.00,334.5 859.50,289.7 860.00,285.9 860.50,314.3 861.00,295.5 861.50,273.5 862.00,310.2 862.50,303.3 863.00,279.9 863.50,312.5 864.00,324.0 864.50,307.2 865.00,283.8 865.50,283.5 866.00,283.2 866.50,318.6 867.00,282.5 867.50,315.5 868.00,327.5 868.50,323.5 869.00,320.8 869.50,330.0 870.00,330.8 870.50,288.2 871.00,318.9 871.50,276.5 872.00,278.8 872.50,308.0 873.00,282.7 873.50,312.2 874.00,333.6 874.50,324.1 875.00,283.4 875.50,327.1 876.00,294.0 876.50,278.5 877.00,278.7 877.50,279.0 878.00,279.3 878.50,333.9 879.00,335.5 879.50,280.2 880.00,280.5 880.50,281.5 881.00,321.4 881.50,284.7 882.00,291.3 882.50,309.8 883.00,300.8 883.50,297.7 884.00,294.9 884.50,303.8 885.00,293.6 885.50,317.2 886.00,289.5 886.50,307.7 887.00,320.4 887.50,311.0 888.00,300.7 888.50,321.8 889.00,290.9 889.50,289.0 890.00,273.2 890.50,290.2 891.00,267.5 891.50,271.5 892.00,303.3 892.50,303.1 893.00,309.9 893.50,332.8 894.00,289.4 894.50,290.6 895.00,302.3 895.50,331.7 896.00,303.4 896.50,307.3 897.00,320.1 897.50,299.9 898.00,301.1 898.50,309.2 899.00,304.4 899.50,320.4 900.00,332.9 900.50,318.3 901.00,329.9 901.50,332.3 902.00,326.2 902.50,309.0 903.00,345.7 903.50,308.6 904.00,292.5 904.50,339.1 905.00,350.5 905.50,296.2 906.00,303.1 906.50,311.3 907.00,350.5 907.50,326.1 908.00,332.1 908.50,342.5 909.00,331.1 909.50,330.8 910.00,323.5 910.50,335.6 911.00,333.0 911.50,350.5 912.00,323.5 912.50,332.7 913.00,339.9 913.50,344.8 914.00,347.5 914.50,352.5 915.00,348.4 915.50,363.1 916.00,367.2 916.50,367.0 917.00,354.4 917.50,373.6 918.00,345.9 918.50,369.9 919.00,381.5 919.50,356.0 920.00,366.8 920.50,381.5 921.00,380.1 921.50,362.8 922.00,365.8 922.50,372.9 923.00,381.5 923.50,373.9 924.00,381.5 924.50,374.5 925.00,381.5 925.50,377.1 926.00,348.3 926.50,361.7 927.00,370.2 927.50,354.5 928.00,325.5 928.50,324.5 929.00,330.8 929.50,346.5 930.00,334.7 930.50,350.9 931.00,335.3 931.50,316.5 932.00,329.5 932.50,318.0 933.00,307.5 933.50,351.5 934.00,341.1 934.50,335.1 935.00,346.0 935.50,362.6 936.00,362.4 936.50,361.8 937.00,371.0 937.50,373.7 938.00,368.2 938.50,367.6 939.00,381.5 939.50,366.5 940.00,366.8 940.50,371.8 941.00,366.8 941.50,365.4 942.00,364.5 942.50,360.0 943.00,357.5 943.50,352.1 944.00,363.9 944.50,355.5 945.00,355.7 945.50,354.1 946.00,336.8 946.50,330.0 947.00,327.5 947.50,325.0 948.00,322.5 948.50,324.0 949.00,337.9 949.50,336.5 950.00,352.4 950.50,336.9 951.00,331.5 951.50,336.5 952.00,351.5 952.50,370.8 953.00,368.2 953.50,364.9 954.00,373.0 954.50,342.0 955.00,343.5 955.50,344.5 956.00,346.7 956.50,351.2 957.00,363.2 957.50,348.5 958.00,349.5 958.50,354.8 959.00,380.5 959.50,356.5 960.00,371.4 960.50,356.8 961.00,352.7 961.50,350.2 962.00,361.9 962.50,341.1 963.00,333.5 963.50,326.5 964.00,319.5 964.50,314.8 965.00,310.0 965.50,305.2 966.00,300.5 966.50,298.0 967.00,327.2 967.50,307.1 968.00,317.8 968.50,301.9 969.00,308.5 969.50,266.0 970.00,250.5 970.50,246.5 971.00,245.4 971.50,251.2 972.00,262.1 972.50,233.0 973.00,246.0 973.50,229.0 974.00,287.0 974.50,253.9 975.00,223.7 975.50,276.2 976.00,199.9 976.50,196.5 977.00,236.9 977.50,220.3 978.00,215.8 978.50,222.1 979.00,226.1 979.50,210.7 980.00,219.1 980.50,228.6 981.00,220.8 981.50,240.0 982.00,210.5 982.50,213.8 983.00,194.5 983.50,230.0 984.00,241.0 984.50,242.2 985.00,212.6 985.50,250.0 986.00,261.5 986.50,252.2 987.00,237.1 987.50,251.8 988.00,200.2 988.50,221.6 989.00,220.1 989.50,198.5 990.00,260.5 990.50,261.7 991.00,253.2 991.50,242.9 992.00,215.6 992.50,225.1 993.00,234.8 993.50,254.9 994.00,283.0 994.50,248.1 995.00,262.5 995.50,283.2 996.00,271.5 996.50,240.0 997.00,240.5 997.50,243.3 998.00,242.5 998.50,259.9 999.00,258.1 999.50,261.2 1000.00,272.1 1000.50,271.2 1001.00,308.5 1001.50,292.8 1002.00,287.6 1002.50,289.7 1003.00,299.0 1003.50,274.9 1004.00,300.1 1004.50,305.8 1005.00,288.5 1005.50,304.5 1006.00,303.8 1006.50,297.2 1007.00,302.5 1007.50,247.9 1008.00,280.4 1008.50,194.5 1009.00,251.4 1009.50,205.4 1010.00,250.8 1010.50,300.5 1011.00,250.8 1011.50,311.1 1012.00,270.3 1012.50,266.3 1013.00,235.5 1013.50,271.4 1014.00,324.5 1014.50,266.4 1015.00,276.7 1015.50,258.0 1016.00,284.5 1016.50,281.1 1017.00,311.5 1017.50,299.3 1018.00,304.1 1018.50,305.5 1019.00,319.6 1019.50,322.2 1020.00,311.1 1020.50,282.5 1021.00,276.5 1021.50,284.3 1022.00,304.5 1022.50,297.5 1023.00,307.3 1023.50,308.9 1024.00,311.2 1024.50,287.0 1025.00,286.5 1025.50,303.0 1026.00,293.5 1026.50,297.0 1027.00,300.5 1027.50,308.0 1028.00,325.1 1028.50,322.1 1029.00,332.7 1029.50,347.2 1030.00,336.2 1030.50,337.2 1031.00,359.0 1031.50,361.1 1032.00,368.0 1032.50,362.5 1033.00,377.5 1033.50,358.0 1034.00,349.2 1034.50,357.8 1035.00,345.5 1035.50,343.2 1036.00,341.5 1036.50,349.5 1037.00,340.7 1037.50,344.6 1038.00,335.1 1038.50,346.5 1039.00,348.5 1039.50,349.8 1040.00,352.5 1040.50,332.9 1041.00,328.2 1041.50,350.6 1042.00,343.3 1042.50,327.9 1043.00,329.3 1043.50,317.7 1044.00,309.5 1044.50,341.5 1045.00,363.5 1045.50,303.0 1046.00,310.2 1046.50,338.9 1047.00,331.8 1047.50,304.4 1048.00,276.5 1048.50,321.0 1049.00,260.8 1049.50,278.3 1050.00,208.2 1050.50,269.1 1051.00,201.5 1051.50,199.0 1052.00,225.8 1052.50,194.5 1053.00,254.4 1053.50,254.7 1054.00,305.6 1054.50,316.0 1055.00,274.2 1055.50,232.4 1056.00,246.3 1056.50,300.7 1057.00,257.7 1057.50,305.6 1058.00,272.2 1058.50,298.7 1059.00,312.1 1059.50,290.8 1060.00,334.5 1060.50,292.4 1061.00,310.8 1061.50,290.5 1062.00,307.7 1062.50,309.9 1063.00,285.2 1063.50,281.5 1064.00,278.4 1064.50,273.5 1065.00,275.3 1065.50,277.6 1066.00,327.5 1066.50,326.3 1067.00,324.3 1067.50,298.9 1068.00,330.5 1068.50,324.0 1069.00,293.2 1069.50,285.1 1070.00,277.5 1070.50,284.5 1071.00,305.2 1071.50,290.8 1072.00,301.1 1072.50,306.6 1073.00,305.9 1073.50,302.6 1074.00,260.7 1074.50,252.6 1075.00,244.5 1075.50,253.7 1076.00,288.2 1076.50,300.8 1077.00,318.5 1077.50,305.1 1078.00,323.9 1078.50,315.5 1079.00,327.8 1079.50,297.2 1080.00,297.4 1080.50,276.9 1081.00,266.5 1081.50,264.5 1082.00,345.5 1082.50,309.5 1083.00,342.0 1083.50,340.2 1084.00,260.5 1084.50,278.3 1085.00,306.3 1085.50,280.6 1086.00,314.5 1086.50,314.5 1087.00,314.5 1087.50,258.7 1088.00,248.0 1088.50,245.9 1089.00,244.2 1089.50,258.3 1090.00,288.5 1090.50,278.4 1091.00,291.0 1091.50,290.8 1092.00,290.5 1092.50,290.2 1093.00,268.2 1093.50,289.8 1094.00,261.6 1094.50,233.5 1095.00,273.4 1095.50,248.0 1096.00,235.1 1096.50,269.4 1097.00,261.6 1097.50,251.0 1098.00,241.5 1098.50,236.5 1099.00,300.5 1099.50,256.5 1100.00,243.7 1100.50,297.5 1101.00,296.5 1101.50,247.4 1102.00,261.2 1102.50,221.5 1103.00,232.1 1103.50,294.5 1104.00,294.5 1104.50,294.5 1105.00,294.5 1105.50,259.4 1106.00,284.2 1106.50,302.7 1107.00,273.7 1107.50,245.0 1108.00,269.3 1108.50,285.9 1109.00,286.1 1109.50,291.7 1110.00,297.2 1110.50,322.6 1111.00,330.5 1111.50,317.0 1112.00,323.2 1112.50,307.1 1113.00,284.3 1113.50,279.7 1114.00,292.8 1114.50,299.9 1115.00,293.8 1115.50,268.2 1116.00,296.0 1116.50,258.5 1117.00,314.5 1117.50,266.5 1118.00,312.5 1118.50,292.1 1119.00,262.5 1119.50,286.3 1120.00,283.8 1120.50,301.4 1121.00,310.5 1121.50,258.5 1122.00,266.7 1122.50,313.5 1123.00,314.5 1123.50,315.5 1124.00,316.5 1124.50,317.5 1125.00,318.6 1125.50,319.6 1126.00,320.6 1126.50,321.6 1127.00,311.4 1127.50,323.5 1128.00,250.5 1128.50,277.6 1129.00,255.8 1129.50,264.1 1130.00,271.5 1130.50,302.7 1131.00,295.0 1131.50,289.5 1132.00,279.8 1132.50,283.4 1133.00,288.1 1133.50,299.5 1134.00,284.1 1134.50,289.2 1135.00,296.5 1135.50,259.1 1136.00,269.7 1136.50,252.5 1137.00,248.1 1137.50,248.7 1138.00,247.7 1138.50,239.1 1139.00,229.5 1139.50,269.1 1140.00,261.0 1140.50,237.0 1141.00,239.5 1141.50,297.1 1142.00,304.4 1142.50,274.4 1143.00,236.3 1143.50,256.4 1144.00,312.5 1144.50,311.0 1145.00,256.6 1145.50,273.7 1146.00,223.5 1146.50,305.0 1147.00,253.2 1147.50,272.0 1148.00,272.4 1148.50,280.9 1149.00,288.0 1149.50,258.1 1150.00,276.7 1150.50,242.7 1151.00,224.5 1151.50,225.2 1152.00,236.6 1152.50,312.5 1153.00,276.9 1153.50,308.3 1154.00,269.4 1154.50,246.3 1155.00,229.2 1155.50,229.5 1156.00,239.5 1156.50,271.1 1157.00,255.8 1157.50,262.1 1158.00,228.6 1158.50,229.5 1159.00,296.0 1159.50,247.0 1160.00,252.3 1160.50,284.7 1161.00,223.1 1161.50,276.0 1162.00,255.6 1162.50,236.9 1163.00,281.3 1163.50,242.7 1164.00,244.0 1164.50,245.2 1165.00,246.5 1165.50,241.3 1166.00,334.5 1166.50,261.3 1167.00,232.5 1167.50,237.8 1168.00,245.9 1168.50,232.2 1169.00,297.6 1169.50,243.9 1170.00,215.5 1170.50,266.6 1171.00,267.4 1171.50,259.4 1172.00,293.6 1172.50,236.7 1173.00,248.6 1173.50,289.1 1174.00,244.8 1174.50,302.0 1175.00,302.5 1175.50,302.6 1176.00,302.8 1176.50,292.2 1177.00,303.0 1177.50,214.5 1178.00,234.6 1178.50,266.0 1179.00,303.5 1179.50,240.9 1180.00,285.7 1180.50,240.2 1181.00,231.9 1181.50,233.2 1182.00,249.9 1182.50,251.5 1183.00,265.0 1183.50,283.0 1184.00,296.3 1184.50,261.0 1185.00,251.1 1185.50,295.9 1186.00,303.6 1186.50,305.8 1187.00,271.8 1187.50,246.5 1188.00,240.5 1188.50,311.5 1189.00,228.5 1189.50,246.4 1190.00,216.5 1190.50,219.4 1191.00,258.4 1191.50,266.4 1192.00,241.9 1192.50,267.1 1193.00,260.3 1193.50,289.0 1194.00,299.0 1194.50,296.3 1195.00,300.2 1195.50,300.9 1196.00,301.5 1196.50,272.7 1197.00,233.5 1197.50,272.5 1198.00,239.0 1198.50,260.4 1199.00,249.9 1199.50,265.0 1200.00,254.1 1200.50,239.8 1201.00,242.0 1201.50,253.5 1202.00,291.0 1202.50,276.5 1203.00,282.3 1203.50,257.2 1204.00,255.8 1204.50,258.2 1205.00,260.5 1205.50,291.1 1206.00,304.5 1206.50,287.4 1207.00,294.1 1207.50,299.1 1208.00,254.6 1208.50,250.6 1209.00,271.5 1209.50,243.5 1210.00,245.6 1210.50,247.3 1211.00,255.4 1211.50,284.9 1212.00,270.2 1212.50,298.3 1213.00,311.6 1213.50,312.5 1214.00,263.8 1214.50,256.7 1215.00,264.2 1215.50,246.7 1216.00,254.3 1216.50,298.2 1217.00,290.9 1217.50,251.2 1218.00,264.3 1218.50,288.4 1219.00,240.5 1219.50,238.6 1220.00,320.5 1220.50,273.3 1221.00,260.2 1221.50,256.2 1222.00,276.3 1222.50,294.0 1223.00,225.5 1223.50,310.5 1224.00,312.5 1224.50,314.5 1225.00,309.8 1225.50,291.1 1226.00,260.0 1226.50,260.5 1227.00,283.6 1227.50,285.6 1228.00,263.5 1228.50,265.9 1229.00,296.1 1229.50,323.5 1230.00,322.7 1230.50,263.2 1231.00,247.5 1231.50,268.7 1232.00,316.7 1232.50,318.5 1233.00,318.5 1233.50,316.8 1234.00,315.2 1234.50,276.6 1235.00,311.8 1235.50,310.2 1236.00,299.1 1236.50,302.4 1237.00,308.5 1237.50,308.5 1238.00,308.5 1238.50,308.5 1239.00,289.9 1239.50,298.0 1240.00,308.5 1240.50,299.5 1241.00,274.5 1241.50,273.9 1242.00,307.5 1242.50,298.1 1243.00,292.6 1243.50,271.5 1244.00,292.0 1244.50,297.0 1245.00,274.6 1245.50,279.8 1246.00,285.5 1246.50,275.5 1247.00,310.5 1247.50,280.0 1248.00,272.5 1248.50,270.2 1249.00,280.1 1249.50,275.4 1250.00,263.3 1250.50,261.5 1251.00,267.8 1251.50,273.0 1252.00,304.6 1252.50,310.8 1253.00,320.5 1253.50,318.8 1254.00,317.2 1254.50,284.3 1255.00,278.1 1255.50,271.5 1256.00,268.5 1256.50,265.5 1257.00,262.5 1257.50,287.2 1258.00,292.5 1258.50,278.0 1259.00,254.5 1259.50,275.1 1260.00,280.1 1260.50,262.7 1261.00,295.7 1261.50,272.1 1262.00,329.5 1262.50,310.7 1263.00,316.2" fill="none" stroke="#0000ff" stroke-width="3.1" stroke-linejoin="round" stroke-linecap="round"/>
<path d="M202.5,383.8 L202.5,54.0" stroke="#000" stroke-width="3.12" stroke-dasharray="11.56 5" fill="none"/>
<path d="M560.4,383.8 L560.4,54.0" stroke="#000" stroke-width="3.12" stroke-dasharray="11.56 5" fill="none"/>
<path d="M918.3,383.8 L918.3,54.0" stroke="#000" stroke-width="3.12" stroke-dasharray="11.56 5" fill="none"/>
</g>
<text transform="translate(215.39,95.00) scale(1.0691,1)" font-size="24.7" fill="#2e2e2e" xml:space="preserve">11/30</text>
<text transform="translate(573.26,95.00) scale(1.0335,1)" font-size="24.7" fill="#2e2e2e" xml:space="preserve">12/01</text>
<text transform="translate(930.95,95.00) scale(1.0386,1)" font-size="24.7" fill="#2e2e2e" xml:space="preserve">12/02</text>
<path d="M188.0,54.0 L1350.0,54.0 L1350.0,383.0 L188.0,383.0 Z" fill="none" stroke="#000" stroke-width="2" stroke-linejoin="miter"/>
<path d="M188.00,383.0 v6.9 M277.00,383.0 v6.9 M366.00,383.0 v6.9 M456.00,383.0 v6.9 M545.00,383.0 v6.9 M635.00,383.0 v6.9 M724.00,383.0 v6.9 M813.00,383.0 v6.9 M903.00,383.0 v6.9 M992.00,383.0 v6.9 M1082.00,383.0 v6.9 M1171.00,383.0 v6.9 M1261.00,383.0 v6.9 M1350.00,383.0 v6.9 M188.0,54.00 h-7.0 M188.0,136.00 h-7.0 M188.0,218.00 h-7.0 M188.0,300.00 h-7.0 M188.0,383.00 h-7.0 M1350.0,54.00 h7.0 M1350.0,136.00 h7.0 M1350.0,218.00 h7.0 M1350.0,300.00 h7.0 M1350.0,383.00 h7.0" stroke="#000" stroke-width="2" fill="none"/>
<text transform="translate(175.10,412.70) scale(0.9393,1)" font-size="23.4" fill="#000" xml:space="preserve">22</text>
<text transform="translate(270.58,412.70) scale(0.9050,1)" font-size="23.4" fill="#000" xml:space="preserve">4</text>
<text transform="translate(353.61,412.70) scale(0.9583,1)" font-size="23.4" fill="#000" xml:space="preserve">10</text>
<text transform="translate(443.60,412.70) scale(0.9626,1)" font-size="23.4" fill="#000" xml:space="preserve">16</text>
<text transform="translate(532.10,412.70) scale(0.9393,1)" font-size="23.4" fill="#000" xml:space="preserve">22</text>
<text transform="translate(628.58,412.70) scale(0.9050,1)" font-size="23.4" fill="#000" xml:space="preserve">4</text>
<text transform="translate(711.61,412.70) scale(0.9583,1)" font-size="23.4" fill="#000" xml:space="preserve">10</text>
<text transform="translate(800.60,412.70) scale(0.9626,1)" font-size="23.4" fill="#000" xml:space="preserve">16</text>
<text transform="translate(890.10,412.70) scale(0.9393,1)" font-size="23.4" fill="#000" xml:space="preserve">22</text>
<text transform="translate(985.58,412.70) scale(0.9050,1)" font-size="23.4" fill="#000" xml:space="preserve">4</text>
<text transform="translate(1069.61,412.70) scale(0.9583,1)" font-size="23.4" fill="#000" xml:space="preserve">10</text>
<text transform="translate(1158.60,412.70) scale(0.9626,1)" font-size="23.4" fill="#000" xml:space="preserve">16</text>
<text transform="translate(1248.10,412.70) scale(0.9393,1)" font-size="23.4" fill="#000" xml:space="preserve">22</text>
<text transform="translate(1343.58,412.70) scale(0.9050,1)" font-size="23.4" fill="#000" xml:space="preserve">4</text>
<text transform="translate(114.40,62.00) scale(1.0138,1)" font-size="23.4" fill="#000" xml:space="preserve">11.00</text>
<text transform="translate(127.28,144.00) scale(0.9857,1)" font-size="23.4" fill="#000" xml:space="preserve">8.25</text>
<text transform="translate(127.28,226.00) scale(0.9804,1)" font-size="23.4" fill="#000" xml:space="preserve">5.50</text>
<text transform="translate(127.04,308.00) scale(0.9910,1)" font-size="23.4" fill="#000" xml:space="preserve">2.75</text>
<text transform="translate(127.28,390.00) scale(0.9804,1)" font-size="23.4" fill="#000" xml:space="preserve">0.00</text>
<text transform="translate(1365.14,62.00) scale(0.9887,1)" font-size="23.4" fill="#000" xml:space="preserve">24.6</text>
<text transform="translate(1365.25,144.00) scale(0.9862,1)" font-size="23.4" fill="#000" xml:space="preserve">18.5</text>
<text transform="translate(1365.25,226.00) scale(0.9862,1)" font-size="23.4" fill="#000" xml:space="preserve">12.3</text>
<text transform="translate(1365.15,308.00) scale(0.9839,1)" font-size="23.4" fill="#000" xml:space="preserve">6.2</text>
<text transform="translate(1365.39,390.00) scale(0.9689,1)" font-size="23.4" fill="#000" xml:space="preserve">0.0</text>
<text transform="translate(605.97,440.80) scale(1.0290,1)" font-size="23.4" fill="#000" xml:space="preserve">11/29/25-12/02/25</text>
<text transform="translate(813.44,440.80) scale(0.9385,1)" font-size="23.4" fill="#000" xml:space="preserve">Hours(UTC)</text>
<text transform="translate(102.00,238.46) rotate(-90) scale(0.9544,1)" font-size="23.4" fill="#000" xml:space="preserve">m/s</text>
<text transform="translate(1436.40,243.52) rotate(-90) scale(0.9916,1)" font-size="23.4" fill="#000" xml:space="preserve">mph</text>
<rect x="188.3" y="11.1" width="703.5" height="35.6" rx="4.2" ry="4.2" fill="#fff" fill-opacity="0.8" stroke="#cccccc" stroke-opacity="0.8" stroke-width="2.08"/>
<path d="M195,28.4 H240" stroke="#bfbf00" stroke-opacity="0.5" stroke-width="3.12"/>
<text transform="translate(253.98,34.90) scale(1.0233,1)" font-size="23.4" fill="#000" xml:space="preserve">10m</text>
<text transform="translate(308.58,34.90) scale(0.9596,1)" font-size="23.4" fill="#000" xml:space="preserve">Wind</text>
<text transform="translate(366.18,34.90) scale(0.9562,1)" font-size="23.4" fill="#000" xml:space="preserve">Speed</text>
<text transform="translate(438.42,34.90) scale(0.9802,1)" font-size="23.4" fill="#000" xml:space="preserve">(5s)</text>
<path d="M518.8,28.4 H564.2" stroke="#0000ff" stroke-width="3.12"/>
<text transform="translate(578.10,34.90) scale(1.0234,1)" font-size="23.4" fill="#000" xml:space="preserve">2-minute</text>
<text transform="translate(679.20,34.90) scale(0.9511,1)" font-size="23.4" fill="#000" xml:space="preserve">Avg</text>
<rect x="759" y="21.2" width="41.8" height="13.6" fill="#d3d3d3" fill-opacity="0.5" stroke="#d3d3d3" stroke-opacity="0.5" stroke-width="2.08"/>
<text transform="translate(818.11,34.90) scale(0.9044,1)" font-size="23.4" fill="#000" xml:space="preserve">NIGHT</text>
</svg></body></html>
